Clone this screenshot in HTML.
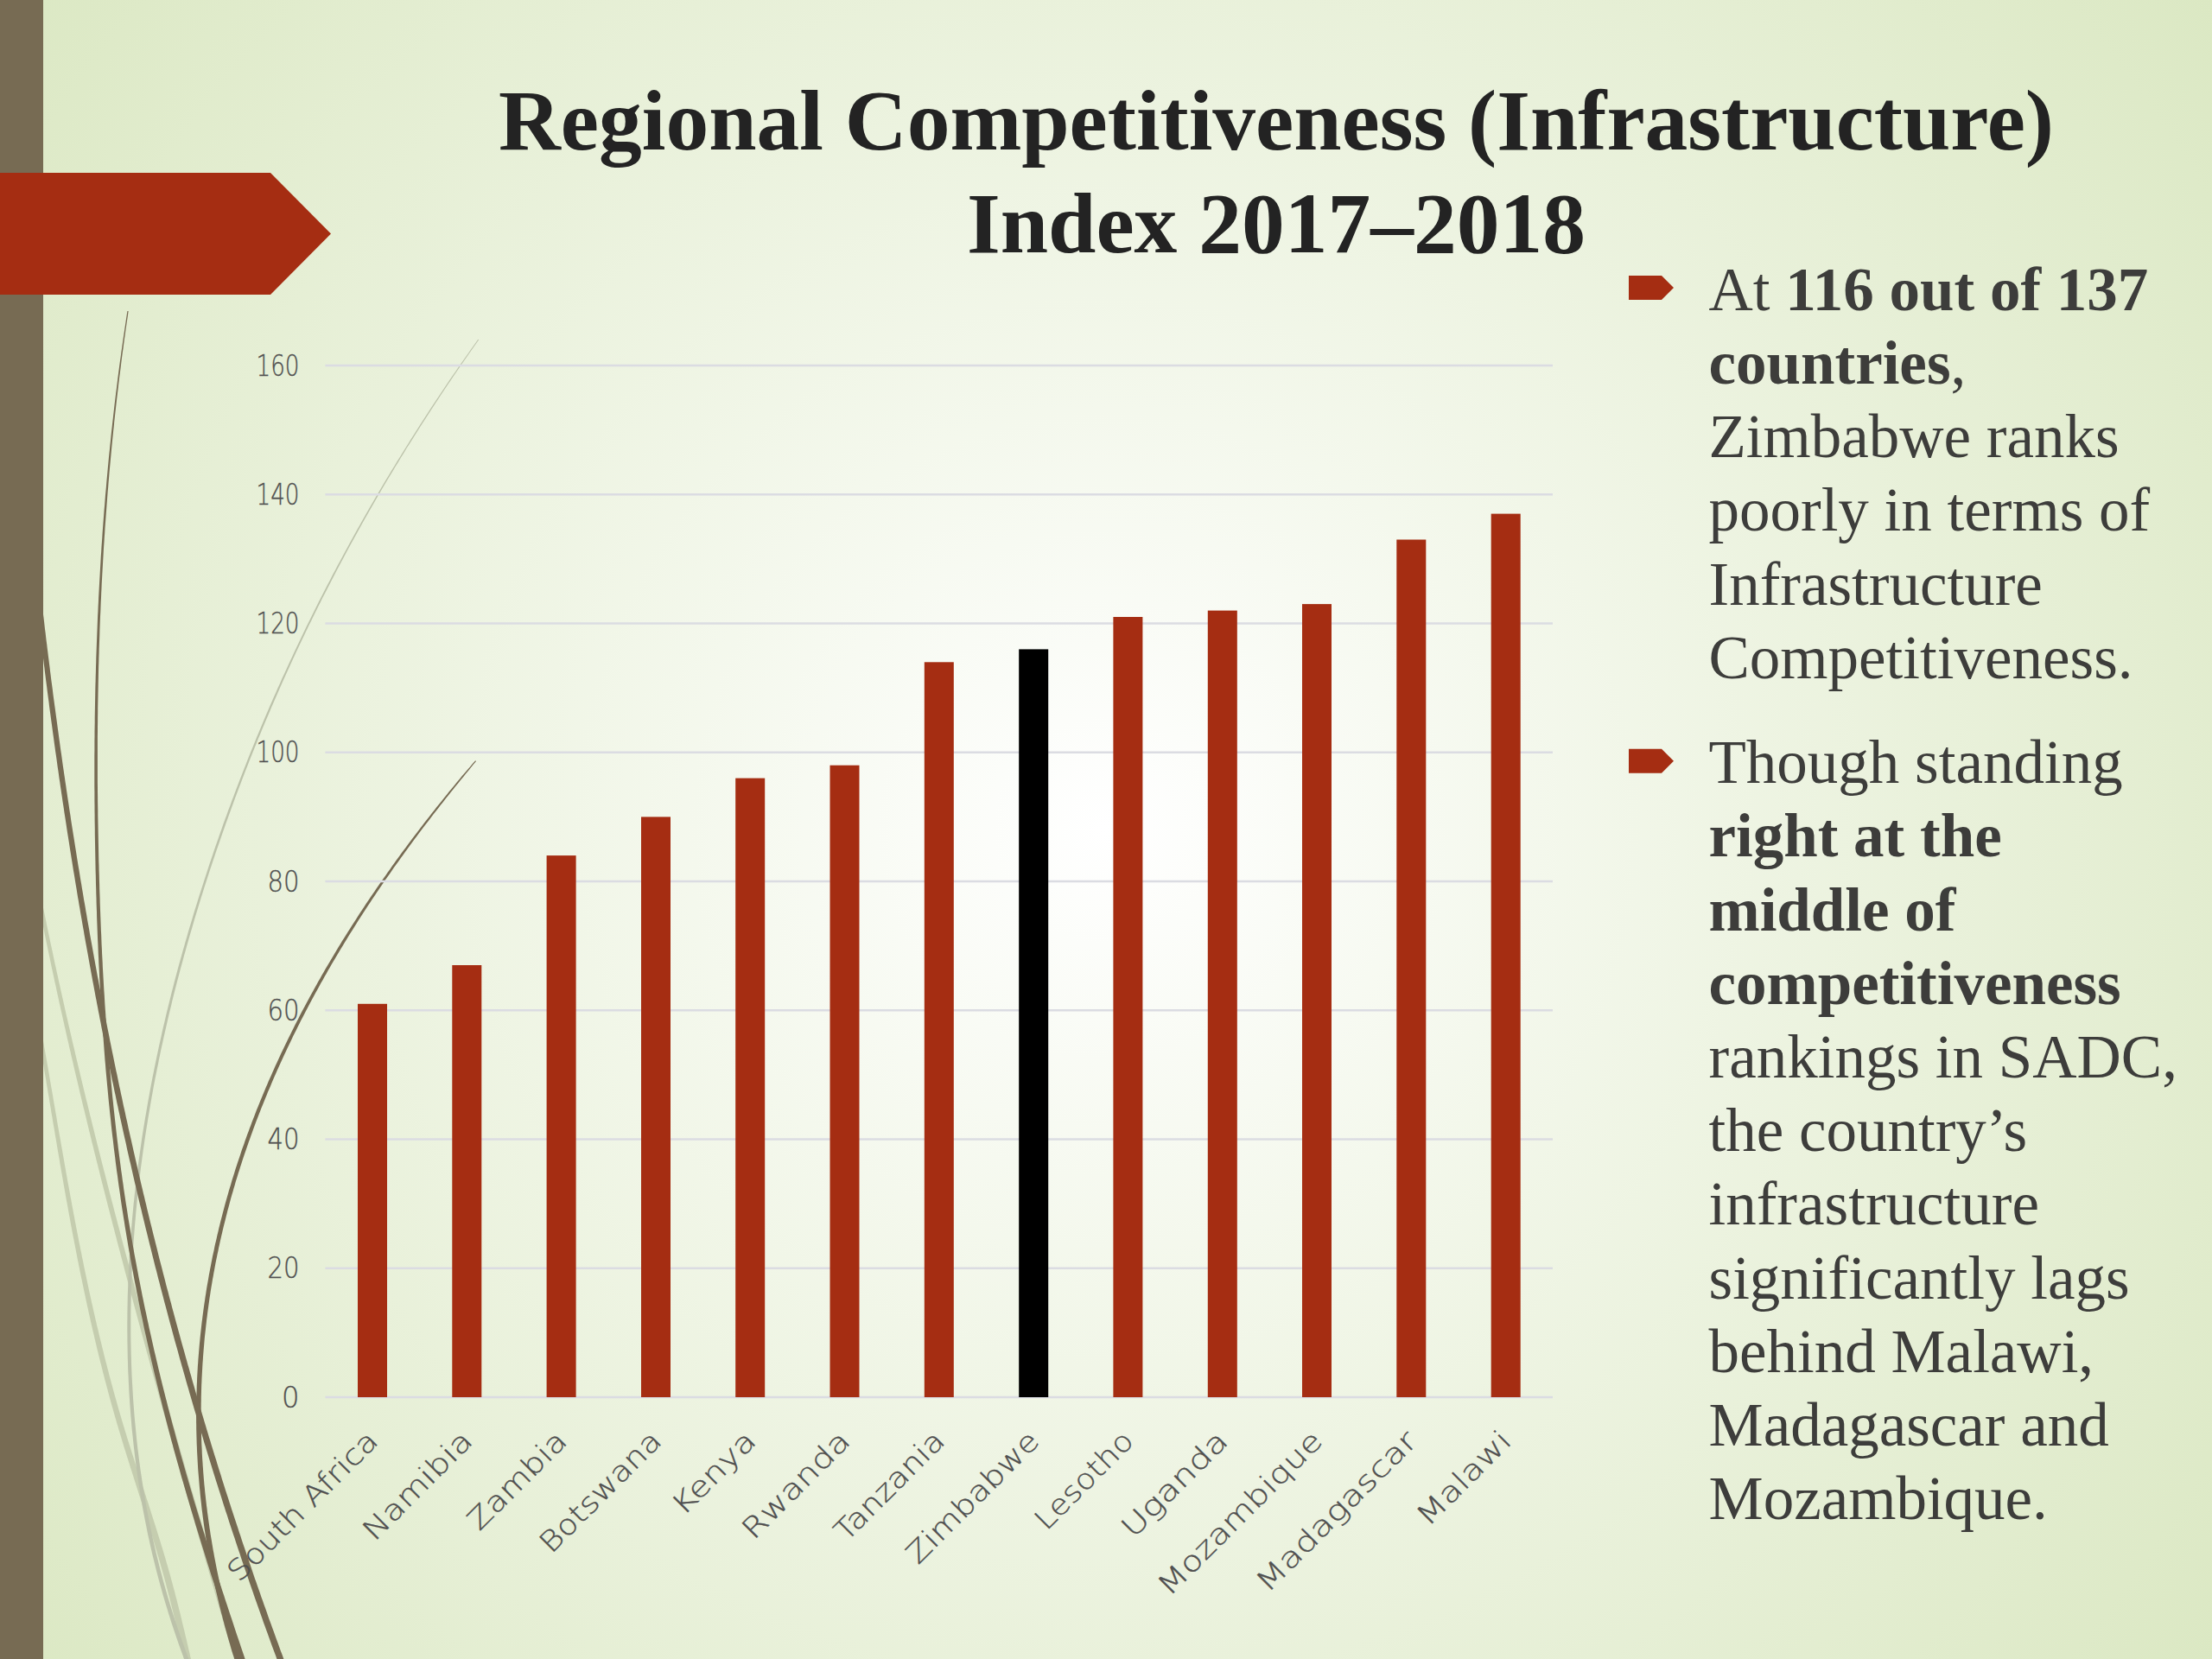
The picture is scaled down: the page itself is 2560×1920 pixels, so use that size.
<!DOCTYPE html>
<html>
<head>
<meta charset="utf-8">
<style>
html,body{margin:0;padding:0;width:2560px;height:1920px;overflow:hidden;}
body{background:#e6eed8;}
#slide{position:absolute;left:0;top:0;width:2560px;height:1920px;overflow:hidden;
background:radial-gradient(circle 1600px at 1280px 960px,#ffffff 0%,#dbe8c3 100%);}
svg{position:absolute;left:0;top:0;}
.t{font-family:"Liberation Serif","Times New Roman",serif;}
.s{font-family:"Liberation Sans",Arial,sans-serif;}
.d{font-family:"DejaVu Sans","Liberation Sans",sans-serif;font-weight:200;fill:#505050;stroke:#505050;stroke-width:0.35px;}
</style>
</head>
<body>
<div id="slide">
<svg width="2560" height="1920" viewBox="0 0 2560 1920">
  <!-- wisps -->
  <g id="wisps">
<path d="M28.6,960.4 L29.2,963.7 L29.8,967.1 L30.4,970.4 L31.0,973.7 L31.6,977.1 L32.2,980.4 L32.8,983.8 L33.5,987.1 L34.1,990.5 L34.7,993.8 L35.3,997.2 L36.0,1000.5 L36.6,1003.9 L37.2,1007.2 L37.9,1010.6 L38.5,1013.9 L39.1,1017.3 L39.8,1020.6 L40.4,1024.0 L41.1,1027.3 L41.7,1030.6 L42.4,1034.0 L43.0,1037.3 L43.7,1040.7 L44.3,1044.0 L45.0,1047.4 L45.7,1050.7 L46.3,1054.1 L47.0,1057.4 L47.7,1060.8 L48.3,1064.1 L49.0,1067.5 L49.7,1070.8 L50.4,1074.2 L51.1,1077.5 L51.7,1080.9 L52.4,1084.2 L53.1,1087.5 L53.8,1090.9 L54.5,1094.2 L55.2,1097.6 L55.9,1100.9 L56.6,1104.3 L57.3,1107.6 L58.0,1111.0 L58.7,1114.3 L59.4,1117.7 L60.1,1121.0 L60.9,1124.4 L61.6,1127.7 L62.3,1131.1 L63.0,1134.4 L63.7,1137.8 L64.5,1141.1 L65.2,1144.5 L65.9,1147.8 L66.6,1151.1 L67.4,1154.5 L68.1,1157.8 L68.8,1161.2 L69.6,1164.5 L70.3,1167.9 L71.1,1171.2 L71.8,1174.6 L72.6,1177.9 L73.3,1181.3 L74.1,1184.6 L74.8,1188.0 L75.6,1191.3 L76.3,1194.7 L77.1,1198.0 L77.8,1201.4 L78.6,1204.7 L79.4,1208.1 L80.1,1211.4 L80.9,1214.7 L81.7,1218.1 L82.4,1221.4 L83.2,1224.8 L84.0,1228.1 L84.8,1231.5 L85.5,1234.8 L86.3,1238.2 L87.1,1241.5 L87.9,1244.9 L88.7,1248.2 L89.5,1251.6 L90.3,1254.9 L91.1,1258.3 L91.8,1261.6 L92.6,1265.0 L93.4,1268.3 L94.2,1271.6 L95.0,1275.0 L95.8,1278.3 L96.6,1281.7 L97.5,1285.0 L98.3,1288.4 L99.1,1291.7 L99.9,1295.1 L100.7,1298.4 L101.5,1301.8 L102.3,1305.1 L103.1,1308.5 L104.0,1311.8 L104.8,1315.2 L105.6,1318.5 L106.4,1321.9 L107.3,1325.2 L108.1,1328.6 L108.9,1331.9 L109.7,1335.2 L110.6,1338.6 L111.4,1341.9 L112.2,1345.3 L113.1,1348.6 L113.9,1352.0 L114.8,1355.3 L115.6,1358.7 L116.4,1362.0 L117.3,1365.4 L118.1,1368.7 L119.0,1372.1 L119.8,1375.4 L120.7,1378.8 L121.5,1382.1 L122.4,1385.5 L123.2,1388.8 L124.1,1392.2 L124.9,1395.5 L125.8,1398.8 L126.7,1402.2 L127.5,1405.5 L128.4,1408.9 L129.3,1412.2 L130.1,1415.6 L131.0,1418.9 L131.9,1422.3 L132.7,1425.6 L133.6,1429.0 L134.5,1432.3 L135.3,1435.7 L136.2,1439.0 L137.1,1442.4 L138.0,1445.7 L138.9,1449.1 L139.7,1452.4 L140.6,1455.7 L141.5,1459.1 L142.4,1462.4 L143.3,1465.8 L144.1,1469.1 L145.0,1472.5 L145.9,1475.8 L146.8,1479.2 L147.7,1482.5 L148.6,1485.9 L149.5,1489.2 L150.4,1492.6 L151.3,1495.9 L152.2,1499.3 L153.1,1502.6 L154.0,1506.0 L154.9,1509.3 L155.8,1512.7 L156.7,1516.0 L157.6,1519.3 L158.5,1522.7 L159.4,1526.0 L160.3,1529.4 L161.2,1532.7 L162.1,1536.1 L163.0,1539.4 L163.9,1542.8 L164.8,1546.1 L165.8,1549.5 L166.7,1552.8 L167.6,1556.2 L168.5,1559.5 L169.4,1562.9 L170.3,1566.2 L171.3,1569.6 L172.2,1572.9 L173.1,1576.2 L174.0,1579.6 L174.9,1582.9 L175.9,1586.3 L176.8,1589.6 L177.7,1593.0 L178.6,1596.3 L179.6,1599.7 L180.5,1603.0 L181.4,1606.4 L182.4,1609.7 L183.3,1613.1 L184.2,1616.4 L185.1,1619.8 L186.1,1623.1 L187.0,1626.5 L187.9,1629.8 L188.9,1633.1 L189.8,1636.5 L190.8,1639.8 L191.7,1643.2 L192.6,1646.5 L193.6,1649.9 L194.5,1653.2 L195.4,1656.6 L196.4,1659.9 L197.3,1663.3 L198.3,1666.6 L199.2,1670.0 L200.2,1673.3 L201.1,1676.7 L202.0,1680.0 L203.0,1683.3 L203.9,1686.7 L204.9,1690.0 L205.8,1693.4 L206.8,1696.7 L207.7,1700.1 L208.7,1703.4 L209.6,1706.8 L210.6,1710.1 L211.5,1713.5 L212.5,1716.8 L213.4,1720.2 L214.4,1723.5 L215.3,1726.9 L216.3,1730.2 L217.2,1733.6 L218.2,1736.9 L219.1,1740.2 L220.1,1743.6 L221.1,1746.9 L222.0,1750.3 L223.0,1753.6 L223.9,1757.0 L224.9,1760.3 L225.8,1763.7 L226.8,1767.0 L227.8,1770.4 L228.7,1773.7 L229.7,1777.1 L230.6,1780.4 L231.6,1783.8 L232.6,1787.1 L233.5,1790.4 L234.5,1793.8 L235.4,1797.1 L236.4,1800.5 L237.4,1803.8 L238.3,1807.2 L239.3,1810.5 L240.3,1813.9 L241.2,1817.2 L242.2,1820.6 L243.2,1823.9 L244.1,1827.3 L245.1,1830.6 L246.0,1834.0 L247.0,1837.3 L248.0,1840.6 L248.9,1844.0 L249.9,1847.3 L250.9,1850.7 L251.8,1854.0 L252.8,1857.4 L253.8,1860.7 L254.7,1864.1 L255.7,1867.4 L256.7,1870.8 L257.6,1874.1 L258.6,1877.5 L259.6,1880.8 L260.5,1884.2 L261.5,1887.5 L262.5,1890.8 L263.4,1894.2 L264.4,1897.5 L265.4,1900.9 L266.3,1904.2 L267.3,1907.6 L268.3,1910.9 L269.2,1914.3 L270.2,1917.6 L271.2,1921.0 L272.2,1924.3 L273.1,1927.7 L274.1,1931.0 L275.1,1934.3 L276.0,1937.7 L277.0,1941.0 L278.0,1944.4 L278.9,1947.7 L279.9,1951.1 L280.9,1954.4 L281.8,1957.8 L282.8,1961.1 L290.5,1958.9 L289.5,1955.5 L288.5,1952.2 L287.5,1948.9 L286.6,1945.5 L285.6,1942.2 L284.6,1938.8 L283.6,1935.5 L282.6,1932.1 L281.7,1928.8 L280.7,1925.5 L279.7,1922.1 L278.7,1918.8 L277.7,1915.4 L276.7,1912.1 L275.8,1908.7 L274.8,1905.4 L273.8,1902.1 L272.8,1898.7 L271.8,1895.4 L270.9,1892.0 L269.9,1888.7 L268.9,1885.3 L267.9,1882.0 L266.9,1878.7 L266.0,1875.3 L265.0,1872.0 L264.0,1868.6 L263.0,1865.3 L262.0,1861.9 L261.1,1858.6 L260.1,1855.3 L259.1,1851.9 L258.1,1848.6 L257.1,1845.2 L256.2,1841.9 L255.2,1838.6 L254.2,1835.2 L253.2,1831.9 L252.3,1828.5 L251.3,1825.2 L250.3,1821.8 L249.3,1818.5 L248.3,1815.2 L247.4,1811.8 L246.4,1808.5 L245.4,1805.1 L244.4,1801.8 L243.5,1798.4 L242.5,1795.1 L241.5,1791.8 L240.5,1788.4 L239.6,1785.1 L238.6,1781.7 L237.6,1778.4 L236.7,1775.0 L235.7,1771.7 L234.7,1768.4 L233.7,1765.0 L232.8,1761.7 L231.8,1758.3 L230.8,1755.0 L229.9,1751.7 L228.9,1748.3 L227.9,1745.0 L226.9,1741.6 L226.0,1738.3 L225.0,1734.9 L224.0,1731.6 L223.1,1728.3 L222.1,1724.9 L221.1,1721.6 L220.2,1718.2 L219.2,1714.9 L218.3,1711.5 L217.3,1708.2 L216.3,1704.9 L215.4,1701.5 L214.4,1698.2 L213.4,1694.8 L212.5,1691.5 L211.5,1688.2 L210.6,1684.8 L209.6,1681.5 L208.6,1678.1 L207.7,1674.8 L206.7,1671.4 L205.8,1668.1 L204.8,1664.8 L203.9,1661.4 L202.9,1658.1 L202.0,1654.7 L201.0,1651.4 L200.1,1648.0 L199.1,1644.7 L198.2,1641.4 L197.2,1638.0 L196.3,1634.7 L195.3,1631.3 L194.4,1628.0 L193.4,1624.7 L192.5,1621.3 L191.5,1618.0 L190.6,1614.6 L189.6,1611.3 L188.7,1607.9 L187.8,1604.6 L186.8,1601.3 L185.9,1597.9 L184.9,1594.6 L184.0,1591.2 L183.1,1587.9 L182.1,1584.5 L181.2,1581.2 L180.2,1577.9 L179.3,1574.5 L178.4,1571.2 L177.4,1567.8 L176.5,1564.5 L175.6,1561.2 L174.7,1557.8 L173.7,1554.5 L172.8,1551.1 L171.9,1547.8 L171.0,1544.4 L170.0,1541.1 L169.1,1537.8 L168.2,1534.4 L167.3,1531.1 L166.3,1527.7 L165.4,1524.4 L164.5,1521.1 L163.6,1517.7 L162.7,1514.4 L161.8,1511.0 L160.8,1507.7 L159.9,1504.3 L159.0,1501.0 L158.1,1497.7 L157.2,1494.3 L156.3,1491.0 L155.4,1487.6 L154.5,1484.3 L153.6,1481.0 L152.7,1477.6 L151.8,1474.3 L150.9,1470.9 L150.0,1467.6 L149.1,1464.2 L148.2,1460.9 L147.3,1457.6 L146.4,1454.2 L145.5,1450.9 L144.6,1447.5 L143.7,1444.2 L142.8,1440.9 L141.9,1437.5 L141.0,1434.2 L140.1,1430.8 L139.3,1427.5 L138.4,1424.1 L137.5,1420.8 L136.6,1417.5 L135.7,1414.1 L134.9,1410.8 L134.0,1407.4 L133.1,1404.1 L132.2,1400.7 L131.4,1397.4 L130.5,1394.1 L129.6,1390.7 L128.8,1387.4 L127.9,1384.0 L127.0,1380.7 L126.2,1377.4 L125.3,1374.0 L124.4,1370.7 L123.6,1367.3 L122.7,1364.0 L121.9,1360.6 L121.0,1357.3 L120.1,1354.0 L119.3,1350.6 L118.4,1347.3 L117.6,1343.9 L116.7,1340.6 L115.9,1337.3 L115.1,1333.9 L114.2,1330.6 L113.4,1327.2 L112.5,1323.9 L111.7,1320.5 L110.9,1317.2 L110.0,1313.9 L109.2,1310.5 L108.4,1307.2 L107.5,1303.8 L106.7,1300.5 L105.9,1297.2 L105.1,1293.8 L104.2,1290.5 L103.4,1287.1 L102.6,1283.8 L101.8,1280.4 L101.0,1277.1 L100.1,1273.8 L99.3,1270.4 L98.5,1267.1 L97.7,1263.7 L96.9,1260.4 L96.1,1257.1 L95.3,1253.7 L94.5,1250.4 L93.7,1247.0 L92.9,1243.7 L92.1,1240.3 L91.3,1237.0 L90.5,1233.7 L89.7,1230.3 L88.9,1227.0 L88.1,1223.6 L87.3,1220.3 L86.6,1217.0 L85.8,1213.6 L85.0,1210.3 L84.2,1206.9 L83.4,1203.6 L82.7,1200.2 L81.9,1196.9 L81.1,1193.6 L80.4,1190.2 L79.6,1186.9 L78.8,1183.5 L78.1,1180.2 L77.3,1176.9 L76.5,1173.5 L75.8,1170.2 L75.0,1166.8 L74.3,1163.5 L73.5,1160.1 L72.8,1156.8 L72.0,1153.5 L71.3,1150.1 L70.5,1146.8 L69.8,1143.4 L69.1,1140.1 L68.3,1136.8 L67.6,1133.4 L66.9,1130.1 L66.1,1126.7 L65.4,1123.4 L64.7,1120.0 L63.9,1116.7 L63.2,1113.4 L62.5,1110.0 L61.8,1106.7 L61.1,1103.3 L60.4,1100.0 L59.7,1096.7 L58.9,1093.3 L58.2,1090.0 L57.5,1086.6 L56.8,1083.3 L56.1,1079.9 L55.4,1076.6 L54.7,1073.3 L54.0,1069.9 L53.4,1066.6 L52.7,1063.2 L52.0,1059.9 L51.3,1056.6 L50.6,1053.2 L49.9,1049.9 L49.3,1046.5 L48.6,1043.2 L47.9,1039.8 L47.2,1036.5 L46.6,1033.2 L45.9,1029.8 L45.3,1026.5 L44.6,1023.1 L43.9,1019.8 L43.3,1016.5 L42.6,1013.1 L42.0,1009.8 L41.3,1006.4 L40.7,1003.1 L40.0,999.7 L39.4,996.4 L38.8,993.1 L38.1,989.7 L37.5,986.4 L36.9,983.0 L36.2,979.7 L35.6,976.4 L35.0,973.0 L34.4,969.7 L33.7,966.3 L33.1,963.0 L32.5,959.6Z" fill="#c5cdaf"/>
<path d="M28.7,1110.4 L29.2,1113.2 L29.8,1116.1 L30.3,1118.9 L30.8,1121.7 L31.3,1124.6 L31.9,1127.4 L32.4,1130.3 L32.9,1133.1 L33.4,1136.0 L34.0,1138.8 L34.5,1141.6 L35.0,1144.5 L35.5,1147.3 L36.0,1150.2 L36.5,1153.0 L37.0,1155.9 L37.5,1158.7 L38.1,1161.5 L38.6,1164.4 L39.1,1167.2 L39.6,1170.1 L40.1,1172.9 L40.6,1175.8 L41.1,1178.6 L41.5,1181.4 L42.0,1184.3 L42.5,1187.1 L43.0,1190.0 L43.5,1192.8 L44.0,1195.7 L44.5,1198.5 L45.0,1201.3 L45.5,1204.2 L46.0,1207.0 L46.4,1209.9 L46.9,1212.7 L47.4,1215.6 L47.9,1218.4 L48.4,1221.3 L48.8,1224.1 L49.3,1226.9 L49.8,1229.8 L50.3,1232.6 L50.8,1235.5 L51.2,1238.3 L51.7,1241.2 L52.2,1244.0 L52.7,1246.8 L53.2,1249.7 L53.6,1252.5 L54.1,1255.4 L54.6,1258.2 L55.1,1261.1 L55.5,1263.9 L56.0,1266.7 L56.5,1269.6 L57.0,1272.4 L57.4,1275.3 L57.9,1278.1 L58.4,1281.0 L58.9,1283.8 L59.3,1286.7 L59.8,1289.5 L60.3,1292.3 L60.8,1295.2 L61.2,1298.0 L61.7,1300.9 L62.2,1303.7 L62.7,1306.6 L63.2,1309.4 L63.6,1312.3 L64.1,1315.1 L64.6,1317.9 L65.1,1320.8 L65.6,1323.6 L66.0,1326.5 L66.5,1329.3 L67.0,1332.2 L67.5,1335.0 L68.0,1337.9 L68.5,1340.7 L69.0,1343.5 L69.4,1346.4 L69.9,1349.2 L70.4,1352.1 L70.9,1354.9 L71.4,1357.8 L71.9,1360.6 L72.4,1363.5 L72.9,1366.3 L73.4,1369.2 L73.9,1372.0 L74.4,1374.8 L74.9,1377.7 L75.4,1380.5 L75.9,1383.4 L76.4,1386.2 L76.9,1389.1 L77.5,1391.9 L78.0,1394.8 L78.5,1397.6 L79.0,1400.5 L79.5,1403.3 L80.0,1406.1 L80.6,1409.0 L81.1,1411.8 L81.6,1414.7 L82.1,1417.5 L82.7,1420.4 L83.2,1423.2 L83.7,1426.1 L84.3,1428.9 L84.8,1431.8 L85.4,1434.6 L85.9,1437.4 L86.5,1440.3 L87.0,1443.1 L87.6,1446.0 L88.1,1448.8 L88.7,1451.7 L89.2,1454.5 L89.8,1457.4 L90.4,1460.2 L90.9,1463.1 L91.5,1465.9 L92.1,1468.8 L92.6,1471.6 L93.2,1474.5 L93.8,1477.3 L94.4,1480.1 L95.0,1483.0 L95.6,1485.8 L96.2,1488.7 L96.8,1491.5 L97.4,1494.4 L98.0,1497.2 L98.6,1500.1 L99.2,1502.9 L99.8,1505.8 L100.4,1508.6 L101.0,1511.5 L101.7,1514.3 L102.3,1517.2 L102.9,1520.0 L103.6,1522.9 L104.2,1525.7 L104.8,1528.6 L105.5,1531.4 L106.1,1534.3 L106.8,1537.1 L107.4,1539.9 L108.1,1542.8 L108.8,1545.6 L109.4,1548.5 L110.1,1551.3 L110.8,1554.2 L111.5,1557.0 L112.1,1559.9 L112.8,1562.7 L113.5,1565.6 L114.2,1568.4 L114.9,1571.3 L115.6,1574.1 L116.3,1577.0 L117.1,1579.8 L117.8,1582.7 L118.5,1585.5 L119.2,1588.4 L120.0,1591.2 L120.7,1594.1 L121.4,1596.9 L122.2,1599.8 L122.9,1602.6 L123.7,1605.5 L124.5,1608.3 L125.2,1611.2 L126.0,1614.0 L126.8,1616.9 L127.5,1619.7 L128.3,1622.6 L129.1,1625.4 L129.9,1628.3 L130.7,1631.1 L131.5,1634.0 L132.3,1636.8 L133.1,1639.7 L134.0,1642.5 L134.8,1645.4 L135.6,1648.2 L136.5,1651.1 L137.3,1653.9 L138.2,1656.8 L139.0,1659.6 L139.9,1662.5 L140.7,1665.3 L141.6,1668.2 L142.5,1671.0 L143.3,1673.9 L144.2,1676.7 L145.1,1679.6 L146.0,1682.4 L146.9,1685.3 L147.8,1688.1 L148.7,1690.9 L149.6,1693.8 L150.4,1696.6 L151.3,1699.5 L152.3,1702.3 L153.2,1705.2 L154.1,1708.0 L155.0,1710.9 L155.9,1713.7 L156.8,1716.6 L157.7,1719.4 L158.6,1722.3 L159.5,1725.1 L160.4,1727.9 L161.3,1730.8 L162.2,1733.6 L163.1,1736.5 L164.0,1739.3 L164.9,1742.2 L165.8,1745.0 L166.7,1747.9 L167.6,1750.7 L168.5,1753.5 L169.4,1756.4 L170.3,1759.2 L171.2,1762.1 L172.1,1764.9 L173.0,1767.7 L173.9,1770.6 L174.7,1773.4 L175.6,1776.3 L176.5,1779.1 L177.3,1782.0 L178.2,1784.8 L179.1,1787.6 L179.9,1790.5 L180.8,1793.3 L181.6,1796.1 L182.4,1799.0 L183.3,1801.8 L184.1,1804.7 L184.9,1807.5 L185.7,1810.3 L186.5,1813.2 L187.3,1816.0 L188.1,1818.8 L188.9,1821.7 L189.7,1824.5 L190.5,1827.4 L191.2,1830.2 L192.0,1833.0 L192.7,1835.9 L193.5,1838.7 L194.2,1841.5 L194.9,1844.4 L195.7,1847.2 L196.4,1850.1 L197.1,1852.9 L197.8,1855.7 L198.5,1858.6 L199.2,1861.4 L199.9,1864.2 L200.6,1867.1 L201.3,1869.9 L202.0,1872.8 L202.7,1875.6 L203.3,1878.4 L204.0,1881.3 L204.7,1884.1 L205.4,1887.0 L206.0,1889.8 L206.7,1892.6 L207.3,1895.5 L208.0,1898.3 L208.6,1901.2 L209.3,1904.0 L209.9,1906.9 L210.6,1909.7 L211.2,1912.5 L211.9,1915.4 L212.5,1918.2 L213.2,1921.1 L213.8,1923.9 L214.4,1926.8 L215.1,1929.6 L215.7,1932.4 L216.3,1935.3 L217.0,1938.1 L217.6,1941.0 L218.3,1943.8 L218.9,1946.7 L219.5,1949.5 L220.2,1952.4 L220.8,1955.2 L221.5,1958.0 L222.1,1960.9 L229.9,1959.1 L229.2,1956.3 L228.6,1953.4 L227.9,1950.6 L227.3,1947.7 L226.6,1944.9 L226.0,1942.1 L225.3,1939.2 L224.7,1936.4 L224.0,1933.5 L223.4,1930.7 L222.7,1927.9 L222.1,1925.0 L221.4,1922.2 L220.8,1919.3 L220.1,1916.5 L219.5,1913.6 L218.8,1910.8 L218.1,1908.0 L217.5,1905.1 L216.8,1902.3 L216.2,1899.4 L215.5,1896.6 L214.8,1893.7 L214.2,1890.9 L213.5,1888.1 L212.8,1885.2 L212.1,1882.4 L211.4,1879.5 L210.7,1876.7 L210.1,1873.8 L209.4,1871.0 L208.7,1868.1 L208.0,1865.3 L207.2,1862.4 L206.5,1859.6 L205.8,1856.7 L205.1,1853.9 L204.4,1851.1 L203.6,1848.2 L202.9,1845.4 L202.2,1842.5 L201.4,1839.7 L200.6,1836.8 L199.9,1834.0 L199.1,1831.1 L198.3,1828.3 L197.6,1825.4 L196.8,1822.6 L196.0,1819.7 L195.2,1816.9 L194.4,1814.0 L193.6,1811.2 L192.7,1808.3 L191.9,1805.5 L191.1,1802.6 L190.2,1799.8 L189.4,1796.9 L188.5,1794.1 L187.7,1791.2 L186.8,1788.4 L185.9,1785.5 L185.1,1782.7 L184.2,1779.9 L183.3,1777.0 L182.4,1774.2 L181.5,1771.3 L180.6,1768.5 L179.7,1765.6 L178.8,1762.8 L177.9,1759.9 L177.0,1757.1 L176.1,1754.3 L175.2,1751.4 L174.3,1748.6 L173.4,1745.7 L172.5,1742.9 L171.6,1740.0 L170.7,1737.2 L169.7,1734.4 L168.8,1731.5 L167.9,1728.7 L167.0,1725.8 L166.1,1723.0 L165.1,1720.2 L164.2,1717.3 L163.3,1714.5 L162.4,1711.6 L161.4,1708.8 L160.5,1706.0 L159.6,1703.1 L158.7,1700.3 L157.8,1697.4 L156.9,1694.6 L156.0,1691.8 L155.1,1688.9 L154.2,1686.1 L153.3,1683.2 L152.4,1680.4 L151.5,1677.6 L150.6,1674.7 L149.7,1671.9 L148.8,1669.1 L147.9,1666.2 L147.0,1663.4 L146.2,1660.5 L145.3,1657.7 L144.4,1654.9 L143.6,1652.0 L142.7,1649.2 L141.9,1646.4 L141.0,1643.5 L140.2,1640.7 L139.4,1637.9 L138.5,1635.0 L137.7,1632.2 L136.9,1629.4 L136.1,1626.5 L135.3,1623.7 L134.5,1620.8 L133.7,1618.0 L132.9,1615.2 L132.1,1612.3 L131.3,1609.5 L130.6,1606.7 L129.8,1603.8 L129.0,1601.0 L128.3,1598.2 L127.5,1595.3 L126.7,1592.5 L126.0,1589.6 L125.3,1586.8 L124.5,1584.0 L123.8,1581.1 L123.1,1578.3 L122.3,1575.5 L121.6,1572.6 L120.9,1569.8 L120.2,1567.0 L119.5,1564.1 L118.8,1561.3 L118.1,1558.4 L117.4,1555.6 L116.7,1552.8 L116.0,1549.9 L115.3,1547.1 L114.6,1544.3 L114.0,1541.4 L113.3,1538.6 L112.6,1535.7 L111.9,1532.9 L111.3,1530.1 L110.6,1527.2 L110.0,1524.4 L109.3,1521.6 L108.7,1518.7 L108.0,1515.9 L107.4,1513.0 L106.8,1510.2 L106.1,1507.4 L105.5,1504.5 L104.9,1501.7 L104.3,1498.9 L103.6,1496.0 L103.0,1493.2 L102.4,1490.3 L101.8,1487.5 L101.2,1484.7 L100.6,1481.8 L100.0,1479.0 L99.4,1476.1 L98.8,1473.3 L98.2,1470.5 L97.6,1467.6 L97.0,1464.8 L96.5,1461.9 L95.9,1459.1 L95.3,1456.3 L94.7,1453.4 L94.2,1450.6 L93.6,1447.8 L93.0,1444.9 L92.5,1442.1 L91.9,1439.2 L91.3,1436.4 L90.8,1433.6 L90.2,1430.7 L89.7,1427.9 L89.1,1425.0 L88.6,1422.2 L88.0,1419.4 L87.5,1416.5 L86.9,1413.7 L86.4,1410.8 L85.9,1408.0 L85.3,1405.2 L84.8,1402.3 L84.3,1399.5 L83.7,1396.6 L83.2,1393.8 L82.7,1391.0 L82.2,1388.1 L81.6,1385.3 L81.1,1382.4 L80.6,1379.6 L80.1,1376.8 L79.6,1373.9 L79.0,1371.1 L78.5,1368.2 L78.0,1365.4 L77.5,1362.6 L77.0,1359.7 L76.5,1356.9 L76.0,1354.0 L75.5,1351.2 L75.0,1348.4 L74.5,1345.5 L74.0,1342.7 L73.5,1339.8 L73.0,1337.0 L72.5,1334.2 L72.0,1331.3 L71.5,1328.5 L71.0,1325.6 L70.5,1322.8 L70.0,1319.9 L69.5,1317.1 L69.0,1314.3 L68.5,1311.4 L68.0,1308.6 L67.5,1305.7 L67.0,1302.9 L66.5,1300.1 L66.0,1297.2 L65.6,1294.4 L65.1,1291.5 L64.6,1288.7 L64.1,1285.9 L63.6,1283.0 L63.1,1280.2 L62.6,1277.3 L62.1,1274.5 L61.6,1271.6 L61.2,1268.8 L60.7,1266.0 L60.2,1263.1 L59.7,1260.3 L59.2,1257.4 L58.7,1254.6 L58.2,1251.8 L57.7,1248.9 L57.2,1246.1 L56.8,1243.2 L56.3,1240.4 L55.8,1237.5 L55.3,1234.7 L54.8,1231.9 L54.3,1229.0 L53.8,1226.2 L53.3,1223.3 L52.8,1220.5 L52.3,1217.6 L51.8,1214.8 L51.3,1212.0 L50.8,1209.1 L50.3,1206.3 L49.8,1203.4 L49.3,1200.6 L48.8,1197.7 L48.3,1194.9 L47.8,1192.1 L47.3,1189.2 L46.8,1186.4 L46.3,1183.5 L45.8,1180.7 L45.3,1177.9 L44.8,1175.0 L44.3,1172.2 L43.8,1169.3 L43.3,1166.5 L42.7,1163.6 L42.2,1160.8 L41.7,1158.0 L41.2,1155.1 L40.7,1152.3 L40.1,1149.4 L39.6,1146.6 L39.1,1143.7 L38.6,1140.9 L38.0,1138.1 L37.5,1135.2 L37.0,1132.4 L36.4,1129.5 L35.9,1126.7 L35.3,1123.8 L34.8,1121.0 L34.3,1118.2 L33.7,1115.3 L33.2,1112.5 L32.6,1109.6Z" fill="#c5cdaf"/>
<path d="M553.3,392.7 L549.6,397.9 L545.8,403.2 L542.2,408.4 L538.5,413.7 L534.8,418.9 L531.2,424.1 L527.6,429.4 L524.0,434.6 L520.4,439.8 L516.9,445.1 L513.4,450.3 L509.9,455.6 L506.4,460.8 L502.9,466.0 L499.4,471.3 L496.0,476.5 L492.6,481.8 L489.2,487.0 L485.8,492.2 L482.5,497.5 L479.2,502.7 L475.8,507.9 L472.6,513.2 L469.3,518.4 L466.0,523.7 L462.8,528.9 L459.6,534.1 L456.4,539.4 L453.2,544.6 L450.0,549.9 L446.9,555.1 L443.8,560.3 L440.7,565.6 L437.6,570.8 L434.5,576.0 L431.5,581.3 L428.4,586.5 L425.4,591.8 L422.4,597.0 L419.4,602.2 L416.5,607.5 L413.5,612.7 L410.6,618.0 L407.7,623.2 L404.8,628.4 L402.0,633.7 L399.1,638.9 L396.3,644.2 L393.5,649.4 L390.7,654.6 L387.9,659.9 L385.1,665.1 L382.4,670.4 L379.7,675.6 L377.0,680.8 L374.3,686.1 L371.6,691.3 L368.9,696.5 L366.3,701.8 L363.7,707.0 L361.1,712.3 L358.5,717.5 L355.9,722.7 L353.3,728.0 L350.8,733.2 L348.3,738.5 L345.8,743.7 L343.3,748.9 L340.8,754.2 L338.4,759.4 L335.9,764.7 L333.5,769.9 L331.1,775.2 L328.7,780.4 L326.3,785.6 L324.0,790.9 L321.6,796.1 L319.3,801.4 L317.0,806.6 L314.7,811.8 L312.4,817.1 L310.2,822.3 L307.9,827.6 L305.7,832.8 L303.5,838.0 L301.3,843.3 L299.1,848.5 L296.9,853.8 L294.8,859.0 L292.7,864.2 L290.5,869.5 L288.4,874.7 L286.3,880.0 L284.3,885.2 L282.2,890.4 L280.2,895.7 L278.1,900.9 L276.1,906.2 L274.1,911.4 L272.1,916.7 L270.2,921.9 L268.2,927.1 L266.3,932.4 L264.3,937.6 L262.4,942.9 L260.5,948.1 L258.6,953.3 L256.8,958.6 L254.9,963.8 L253.1,969.1 L251.3,974.3 L249.4,979.5 L247.6,984.8 L245.9,990.0 L244.1,995.3 L242.3,1000.5 L240.6,1005.8 L238.9,1011.0 L237.2,1016.2 L235.5,1021.5 L233.8,1026.7 L232.1,1032.0 L230.4,1037.2 L228.8,1042.5 L227.2,1047.7 L225.5,1052.9 L223.9,1058.2 L222.4,1063.4 L220.8,1068.7 L219.2,1073.9 L217.7,1079.1 L216.2,1084.4 L214.7,1089.6 L213.2,1094.9 L211.7,1100.1 L210.2,1105.4 L208.8,1110.6 L207.3,1115.8 L205.9,1121.1 L204.5,1126.3 L203.1,1131.6 L201.7,1136.8 L200.4,1142.1 L199.0,1147.3 L197.7,1152.5 L196.4,1157.8 L195.1,1163.0 L193.8,1168.3 L192.5,1173.5 L191.3,1178.8 L190.1,1184.0 L188.8,1189.3 L187.6,1194.5 L186.5,1199.7 L185.3,1205.0 L184.1,1210.2 L183.0,1215.5 L181.9,1220.7 L180.8,1226.0 L179.7,1231.2 L178.6,1236.5 L177.6,1241.7 L176.5,1246.9 L175.5,1252.2 L174.5,1257.4 L173.5,1262.7 L172.6,1267.9 L171.6,1273.2 L170.7,1278.4 L169.8,1283.7 L168.9,1288.9 L168.0,1294.1 L167.1,1299.4 L166.3,1304.6 L165.4,1309.9 L164.6,1315.1 L163.8,1320.4 L163.1,1325.6 L162.3,1330.9 L161.6,1336.1 L160.8,1341.4 L160.1,1346.6 L159.5,1351.8 L158.8,1357.1 L158.1,1362.3 L157.5,1367.6 L156.9,1372.8 L156.3,1378.1 L155.7,1383.3 L155.2,1388.6 L154.6,1393.8 L154.1,1399.1 L153.6,1404.3 L153.1,1409.6 L152.7,1414.8 L152.2,1420.0 L151.8,1425.3 L151.4,1430.5 L151.0,1435.8 L150.6,1441.0 L150.3,1446.3 L149.9,1451.5 L149.6,1456.8 L149.3,1462.0 L149.1,1467.3 L148.8,1472.5 L148.6,1477.8 L148.4,1483.0 L148.2,1488.3 L148.0,1493.5 L147.8,1498.8 L147.7,1504.0 L147.6,1509.3 L147.5,1514.5 L147.4,1519.8 L147.4,1525.0 L147.3,1530.2 L147.3,1535.5 L147.3,1540.7 L147.4,1546.0 L147.4,1551.2 L147.5,1556.5 L147.6,1561.7 L147.7,1567.0 L147.8,1572.2 L148.0,1577.5 L148.1,1582.7 L148.3,1588.0 L148.6,1593.2 L148.8,1598.5 L149.1,1603.7 L149.3,1609.0 L149.6,1614.2 L150.0,1619.5 L150.3,1624.7 L150.7,1630.0 L151.1,1635.2 L151.5,1640.5 L152.0,1645.7 L152.4,1651.0 L152.9,1656.2 L153.5,1661.5 L154.0,1666.7 L154.6,1672.0 L155.2,1677.2 L155.8,1682.5 L156.4,1687.7 L157.1,1693.0 L157.8,1698.3 L158.5,1703.5 L159.3,1708.8 L160.0,1714.0 L160.8,1719.3 L161.7,1724.5 L162.5,1729.8 L163.4,1735.0 L164.3,1740.3 L165.2,1745.5 L166.2,1750.8 L167.2,1756.0 L168.2,1761.3 L169.3,1766.5 L170.3,1771.8 L171.4,1777.0 L172.6,1782.3 L173.7,1787.6 L174.9,1792.8 L176.1,1798.1 L177.4,1803.3 L178.7,1808.6 L180.0,1813.8 L181.3,1819.1 L182.7,1824.3 L184.1,1829.6 L185.5,1834.8 L187.0,1840.1 L188.5,1845.4 L190.0,1850.6 L191.6,1855.9 L193.2,1861.1 L194.8,1866.4 L196.4,1871.6 L198.1,1876.9 L199.8,1882.1 L201.6,1887.4 L203.4,1892.7 L205.2,1897.9 L207.0,1903.2 L208.9,1908.4 L210.8,1913.7 L212.8,1918.9 L214.8,1924.2 L216.8,1929.4 L218.8,1934.7 L220.9,1940.0 L223.1,1945.2 L225.2,1950.5 L227.4,1955.7 L229.6,1961.0 L234.2,1959.0 L232.0,1953.8 L229.8,1948.6 L227.6,1943.3 L225.5,1938.1 L223.4,1932.9 L221.4,1927.7 L219.4,1922.4 L217.4,1917.2 L215.4,1912.0 L213.5,1906.8 L211.6,1901.5 L209.8,1896.3 L207.9,1891.1 L206.1,1885.9 L204.4,1880.6 L202.7,1875.4 L201.0,1870.2 L199.3,1865.0 L197.7,1859.7 L196.1,1854.5 L194.5,1849.3 L193.0,1844.0 L191.5,1838.8 L190.0,1833.6 L188.6,1828.4 L187.2,1823.1 L185.8,1817.9 L184.5,1812.7 L183.2,1807.5 L181.9,1802.2 L180.6,1797.0 L179.4,1791.8 L178.2,1786.6 L177.0,1781.3 L175.9,1776.1 L174.8,1770.9 L173.7,1765.6 L172.6,1760.4 L171.6,1755.2 L170.6,1750.0 L169.6,1744.7 L168.7,1739.5 L167.8,1734.3 L166.9,1729.0 L166.0,1723.8 L165.2,1718.6 L164.4,1713.4 L163.6,1708.1 L162.8,1702.9 L162.1,1697.7 L161.4,1692.4 L160.7,1687.2 L160.1,1682.0 L159.4,1676.7 L158.8,1671.5 L158.2,1666.3 L157.7,1661.1 L157.2,1655.8 L156.7,1650.6 L156.2,1645.4 L155.7,1640.1 L155.3,1634.9 L154.9,1629.7 L154.5,1624.4 L154.1,1619.2 L153.8,1614.0 L153.5,1608.7 L153.2,1603.5 L152.9,1598.3 L152.6,1593.1 L152.4,1587.8 L152.2,1582.6 L152.0,1577.4 L151.9,1572.1 L151.7,1566.9 L151.6,1561.7 L151.5,1556.4 L151.4,1551.2 L151.3,1546.0 L151.3,1540.7 L151.3,1535.5 L151.3,1530.3 L151.3,1525.0 L151.3,1519.8 L151.4,1514.6 L151.5,1509.3 L151.6,1504.1 L151.7,1498.9 L151.8,1493.6 L152.0,1488.4 L152.2,1483.2 L152.4,1477.9 L152.6,1472.7 L152.8,1467.5 L153.1,1462.2 L153.4,1457.0 L153.7,1451.8 L154.0,1446.5 L154.3,1441.3 L154.7,1436.1 L155.1,1430.8 L155.5,1425.6 L155.9,1420.3 L156.3,1415.1 L156.8,1409.9 L157.2,1404.6 L157.7,1399.4 L158.2,1394.2 L158.7,1388.9 L159.3,1383.7 L159.9,1378.5 L160.4,1373.2 L161.0,1368.0 L161.6,1362.8 L162.3,1357.5 L162.9,1352.3 L163.6,1347.1 L164.3,1341.8 L165.0,1336.6 L165.7,1331.3 L166.5,1326.1 L167.2,1320.9 L168.0,1315.6 L168.8,1310.4 L169.6,1305.2 L170.5,1299.9 L171.3,1294.7 L172.2,1289.5 L173.1,1284.2 L174.0,1279.0 L174.9,1273.7 L175.8,1268.5 L176.8,1263.3 L177.7,1258.0 L178.7,1252.8 L179.7,1247.6 L180.8,1242.3 L181.8,1237.1 L182.9,1231.9 L183.9,1226.6 L185.0,1221.4 L186.1,1216.1 L187.2,1210.9 L188.4,1205.7 L189.5,1200.4 L190.7,1195.2 L191.9,1190.0 L193.1,1184.7 L194.3,1179.5 L195.5,1174.2 L196.8,1169.0 L198.1,1163.8 L199.3,1158.5 L200.6,1153.3 L201.9,1148.0 L203.3,1142.8 L204.6,1137.6 L206.0,1132.3 L207.4,1127.1 L208.7,1121.9 L210.2,1116.6 L211.6,1111.4 L213.0,1106.1 L214.5,1100.9 L215.9,1095.7 L217.4,1090.4 L218.9,1085.2 L220.4,1079.9 L222.0,1074.7 L223.5,1069.5 L225.0,1064.2 L226.6,1059.0 L228.2,1053.7 L229.8,1048.5 L231.4,1043.3 L233.0,1038.0 L234.7,1032.8 L236.3,1027.5 L238.0,1022.3 L239.7,1017.1 L241.4,1011.8 L243.1,1006.6 L244.8,1001.4 L246.6,996.1 L248.3,990.9 L250.1,985.6 L251.9,980.4 L253.7,975.2 L255.5,969.9 L257.3,964.7 L259.2,959.4 L261.0,954.2 L262.9,948.9 L264.8,943.7 L266.7,938.5 L268.6,933.2 L270.5,928.0 L272.4,922.7 L274.4,917.5 L276.4,912.3 L278.4,907.0 L280.4,901.8 L282.4,896.5 L284.4,891.3 L286.5,886.1 L288.5,880.8 L290.6,875.6 L292.7,870.3 L294.8,865.1 L296.9,859.9 L299.0,854.6 L301.2,849.4 L303.4,844.1 L305.5,838.9 L307.7,833.7 L310.0,828.4 L312.2,823.2 L314.4,817.9 L316.7,812.7 L319.0,807.5 L321.3,802.2 L323.6,797.0 L325.9,791.7 L328.2,786.5 L330.6,781.2 L333.0,776.0 L335.4,770.8 L337.8,765.5 L340.2,760.3 L342.6,755.0 L345.1,749.8 L347.6,744.6 L350.1,739.3 L352.6,734.1 L355.1,728.8 L357.6,723.6 L360.2,718.4 L362.8,713.1 L365.3,707.9 L368.0,702.6 L370.6,697.4 L373.2,692.1 L375.9,686.9 L378.6,681.7 L381.3,676.4 L384.0,671.2 L386.7,665.9 L389.4,660.7 L392.2,655.4 L395.0,650.2 L397.8,645.0 L400.6,639.7 L403.4,634.5 L406.3,629.2 L409.2,624.0 L412.1,618.8 L415.0,613.5 L417.9,608.3 L420.8,603.0 L423.8,597.8 L426.8,592.5 L429.8,587.3 L432.8,582.1 L435.8,576.8 L438.9,571.6 L441.9,566.3 L445.0,561.1 L448.1,555.8 L451.3,550.6 L454.4,545.4 L457.6,540.1 L460.8,534.9 L464.0,529.6 L467.2,524.4 L470.4,519.1 L473.7,513.9 L477.0,508.7 L480.3,503.4 L483.6,498.2 L486.9,492.9 L490.3,487.7 L493.7,482.4 L497.1,477.2 L500.5,471.9 L503.9,466.7 L507.4,461.5 L510.8,456.2 L514.3,451.0 L517.8,445.7 L521.4,440.5 L524.9,435.2 L528.5,430.0 L532.1,424.8 L535.7,419.5 L539.4,414.3 L543.0,409.0 L546.7,403.8 L550.4,398.5 L554.1,393.3Z" fill="#bcc2aa"/>
<path d="M550.2,880.2 L547.0,883.8 L544.0,887.4 L540.9,891.0 L537.9,894.5 L534.8,898.1 L531.8,901.7 L528.8,905.3 L525.8,908.9 L522.9,912.5 L519.9,916.1 L517.0,919.7 L514.1,923.3 L511.2,926.9 L508.3,930.5 L505.4,934.1 L502.6,937.7 L499.7,941.3 L496.9,944.9 L494.1,948.5 L491.3,952.1 L488.5,955.7 L485.8,959.3 L483.0,962.9 L480.3,966.5 L477.6,970.1 L474.8,973.7 L472.2,977.3 L469.5,980.9 L466.8,984.5 L464.2,988.1 L461.5,991.7 L458.9,995.3 L456.3,999.0 L453.7,1002.6 L451.2,1006.2 L448.6,1009.8 L446.1,1013.4 L443.5,1017.0 L441.0,1020.6 L438.5,1024.2 L436.0,1027.8 L433.6,1031.4 L431.1,1035.0 L428.7,1038.6 L426.2,1042.2 L423.8,1045.8 L421.4,1049.4 L419.1,1053.0 L416.7,1056.6 L414.3,1060.3 L412.0,1063.9 L409.7,1067.5 L407.4,1071.1 L405.1,1074.7 L402.8,1078.3 L400.5,1081.9 L398.3,1085.5 L396.0,1089.1 L393.8,1092.7 L391.6,1096.3 L389.4,1099.9 L387.3,1103.6 L385.1,1107.2 L383.0,1110.8 L380.8,1114.4 L378.7,1118.0 L376.6,1121.6 L374.5,1125.2 L372.4,1128.8 L370.4,1132.4 L368.3,1136.0 L366.3,1139.7 L364.3,1143.3 L362.3,1146.9 L360.3,1150.5 L358.4,1154.1 L356.4,1157.7 L354.5,1161.3 L352.5,1164.9 L350.6,1168.5 L348.7,1172.1 L346.8,1175.8 L345.0,1179.4 L343.1,1183.0 L341.3,1186.6 L339.5,1190.2 L337.7,1193.8 L335.9,1197.4 L334.1,1201.0 L332.3,1204.7 L330.6,1208.3 L328.8,1211.9 L327.1,1215.5 L325.4,1219.1 L323.7,1222.7 L322.1,1226.3 L320.4,1229.9 L318.7,1233.6 L317.1,1237.2 L315.5,1240.8 L313.9,1244.4 L312.3,1248.0 L310.7,1251.6 L309.2,1255.2 L307.6,1258.8 L306.1,1262.5 L304.6,1266.1 L303.1,1269.7 L301.6,1273.3 L300.1,1276.9 L298.7,1280.5 L297.2,1284.1 L295.8,1287.8 L294.4,1291.4 L293.0,1295.0 L291.6,1298.6 L290.3,1302.2 L288.9,1305.8 L287.6,1309.4 L286.2,1313.1 L284.9,1316.7 L283.6,1320.3 L282.4,1323.9 L281.1,1327.5 L279.8,1331.1 L278.6,1334.7 L277.4,1338.4 L276.2,1342.0 L275.0,1345.6 L273.8,1349.2 L272.6,1352.8 L271.5,1356.4 L270.4,1360.1 L269.2,1363.7 L268.1,1367.3 L267.1,1370.9 L266.0,1374.5 L264.9,1378.1 L263.9,1381.8 L262.8,1385.4 L261.8,1389.0 L260.8,1392.6 L259.8,1396.2 L258.9,1399.8 L257.9,1403.5 L257.0,1407.1 L256.0,1410.7 L255.1,1414.3 L254.2,1417.9 L253.3,1421.5 L252.5,1425.2 L251.6,1428.8 L250.8,1432.4 L250.0,1436.0 L249.1,1439.6 L248.3,1443.2 L247.6,1446.9 L246.8,1450.5 L246.0,1454.1 L245.3,1457.7 L244.6,1461.3 L243.9,1465.0 L243.2,1468.6 L242.5,1472.2 L241.8,1475.8 L241.2,1479.4 L240.6,1483.1 L239.9,1486.7 L239.3,1490.3 L238.7,1493.9 L238.2,1497.5 L237.6,1501.1 L237.1,1504.8 L236.5,1508.4 L236.0,1512.0 L235.5,1515.6 L235.0,1519.2 L234.5,1522.9 L234.1,1526.5 L233.6,1530.1 L233.2,1533.7 L232.8,1537.3 L232.4,1541.0 L232.0,1544.6 L231.6,1548.2 L231.3,1551.8 L230.9,1555.4 L230.6,1559.1 L230.3,1562.7 L230.0,1566.3 L229.7,1569.9 L229.4,1573.5 L229.2,1577.2 L228.9,1580.8 L228.7,1584.4 L228.5,1588.0 L228.3,1591.6 L228.1,1595.3 L228.0,1598.9 L227.8,1602.5 L227.7,1606.1 L227.6,1609.7 L227.5,1613.4 L227.4,1617.0 L227.3,1620.6 L227.2,1624.2 L227.2,1627.8 L227.1,1631.5 L227.1,1635.1 L227.1,1638.7 L227.1,1642.3 L227.1,1646.0 L227.2,1649.6 L227.2,1653.2 L227.3,1656.8 L227.4,1660.4 L227.5,1664.1 L227.6,1667.7 L227.7,1671.3 L227.9,1674.9 L228.0,1678.5 L228.2,1682.2 L228.4,1685.8 L228.6,1689.4 L228.8,1693.0 L229.0,1696.7 L229.2,1700.3 L229.5,1703.9 L229.8,1707.5 L230.1,1711.1 L230.4,1714.8 L230.7,1718.4 L231.0,1722.0 L231.4,1725.6 L231.7,1729.3 L232.1,1732.9 L232.5,1736.5 L232.9,1740.1 L233.3,1743.7 L233.7,1747.4 L234.2,1751.0 L234.6,1754.6 L235.1,1758.2 L235.6,1761.9 L236.1,1765.5 L236.6,1769.1 L237.2,1772.7 L237.7,1776.3 L238.3,1780.0 L238.9,1783.6 L239.5,1787.2 L240.1,1790.8 L240.7,1794.5 L241.3,1798.1 L242.0,1801.7 L242.7,1805.3 L243.3,1808.9 L244.0,1812.6 L244.7,1816.2 L245.5,1819.8 L246.2,1823.4 L247.0,1827.1 L247.7,1830.7 L248.5,1834.3 L249.3,1837.9 L250.1,1841.6 L251.0,1845.2 L251.8,1848.8 L252.7,1852.4 L253.5,1856.0 L254.4,1859.7 L255.3,1863.3 L256.2,1866.9 L257.2,1870.5 L258.1,1874.2 L259.1,1877.8 L260.0,1881.4 L261.0,1885.0 L262.0,1888.6 L263.0,1892.3 L264.1,1895.9 L265.1,1899.5 L266.2,1903.1 L267.2,1906.8 L268.3,1910.4 L269.4,1914.0 L270.6,1917.6 L271.7,1921.3 L272.8,1924.9 L274.0,1928.5 L275.2,1932.1 L276.4,1935.7 L277.6,1939.4 L278.8,1943.0 L280.0,1946.6 L281.3,1950.2 L282.6,1953.9 L283.8,1957.5 L285.1,1961.1 L291.2,1958.9 L289.9,1955.3 L288.7,1951.7 L287.4,1948.1 L286.1,1944.5 L284.9,1940.9 L283.7,1937.3 L282.5,1933.7 L281.3,1930.1 L280.1,1926.5 L278.9,1922.9 L277.8,1919.3 L276.6,1915.7 L275.5,1912.1 L274.4,1908.5 L273.3,1904.9 L272.2,1901.3 L271.2,1897.7 L270.1,1894.1 L269.1,1890.5 L268.1,1887.0 L267.1,1883.4 L266.1,1879.8 L265.1,1876.2 L264.1,1872.6 L263.2,1869.0 L262.3,1865.4 L261.3,1861.8 L260.4,1858.2 L259.5,1854.6 L258.7,1851.0 L257.8,1847.4 L257.0,1843.8 L256.1,1840.2 L255.3,1836.6 L254.5,1833.0 L253.7,1829.4 L252.9,1825.8 L252.2,1822.2 L251.4,1818.6 L250.7,1815.0 L250.0,1811.4 L249.3,1807.8 L248.6,1804.2 L247.9,1800.6 L247.3,1797.0 L246.6,1793.4 L246.0,1789.8 L245.4,1786.2 L244.8,1782.6 L244.2,1779.0 L243.6,1775.4 L243.1,1771.8 L242.5,1768.2 L242.0,1764.6 L241.5,1761.0 L241.0,1757.4 L240.5,1753.8 L240.0,1750.2 L239.6,1746.6 L239.1,1743.1 L238.7,1739.5 L238.3,1735.9 L237.9,1732.3 L237.5,1728.7 L237.1,1725.1 L236.8,1721.5 L236.4,1717.9 L236.1,1714.3 L235.8,1710.7 L235.5,1707.1 L235.2,1703.5 L235.0,1699.9 L234.7,1696.3 L234.5,1692.7 L234.2,1689.1 L234.0,1685.5 L233.8,1681.9 L233.7,1678.3 L233.5,1674.7 L233.3,1671.1 L233.2,1667.5 L233.1,1663.9 L233.0,1660.3 L232.9,1656.7 L232.8,1653.1 L232.7,1649.5 L232.7,1645.9 L232.7,1642.3 L232.6,1638.7 L232.6,1635.1 L232.6,1631.5 L232.7,1627.9 L232.7,1624.3 L232.8,1620.7 L232.8,1617.1 L232.9,1613.5 L233.0,1609.9 L233.1,1606.3 L233.2,1602.7 L233.4,1599.1 L233.5,1595.5 L233.7,1591.9 L233.9,1588.3 L234.1,1584.7 L234.3,1581.1 L234.5,1577.5 L234.8,1573.9 L235.0,1570.3 L235.3,1566.7 L235.6,1563.1 L235.9,1559.5 L236.2,1555.9 L236.5,1552.3 L236.8,1548.7 L237.2,1545.1 L237.6,1541.5 L238.0,1537.9 L238.4,1534.3 L238.8,1530.7 L239.2,1527.1 L239.7,1523.5 L240.1,1519.9 L240.6,1516.3 L241.1,1512.7 L241.6,1509.1 L242.1,1505.5 L242.6,1501.9 L243.2,1498.3 L243.7,1494.7 L244.3,1491.1 L244.9,1487.5 L245.5,1483.9 L246.1,1480.3 L246.8,1476.7 L247.4,1473.1 L248.1,1469.5 L248.7,1465.9 L249.4,1462.3 L250.1,1458.7 L250.9,1455.1 L251.6,1451.5 L252.4,1447.9 L253.1,1444.3 L253.9,1440.7 L254.7,1437.1 L255.5,1433.5 L256.3,1429.9 L257.2,1426.3 L258.0,1422.7 L258.9,1419.1 L259.8,1415.5 L260.7,1411.9 L261.6,1408.3 L262.5,1404.7 L263.4,1401.0 L264.4,1397.4 L265.4,1393.8 L266.3,1390.2 L267.3,1386.6 L268.3,1383.0 L269.4,1379.4 L270.4,1375.8 L271.5,1372.2 L272.5,1368.6 L273.6,1365.0 L274.7,1361.4 L275.8,1357.8 L277.0,1354.2 L278.1,1350.6 L279.3,1347.0 L280.4,1343.4 L281.6,1339.8 L282.8,1336.2 L284.1,1332.6 L285.3,1329.0 L286.5,1325.4 L287.8,1321.8 L289.1,1318.2 L290.4,1314.5 L291.7,1310.9 L293.0,1307.3 L294.3,1303.7 L295.7,1300.1 L297.0,1296.5 L298.4,1292.9 L299.8,1289.3 L301.2,1285.7 L302.6,1282.1 L304.1,1278.5 L305.5,1274.9 L307.0,1271.3 L308.5,1267.7 L309.9,1264.1 L311.5,1260.5 L313.0,1256.9 L314.5,1253.2 L316.1,1249.6 L317.6,1246.0 L319.2,1242.4 L320.8,1238.8 L322.4,1235.2 L324.1,1231.6 L325.7,1228.0 L327.3,1224.4 L329.0,1220.8 L330.7,1217.2 L332.4,1213.6 L334.1,1210.0 L335.8,1206.4 L337.6,1202.7 L339.3,1199.1 L341.1,1195.5 L342.9,1191.9 L344.7,1188.3 L346.5,1184.7 L348.3,1181.1 L350.2,1177.5 L352.0,1173.9 L353.9,1170.3 L355.8,1166.7 L357.7,1163.0 L359.6,1159.4 L361.6,1155.8 L363.5,1152.2 L365.5,1148.6 L367.5,1145.0 L369.4,1141.4 L371.4,1137.8 L373.5,1134.2 L375.5,1130.6 L377.6,1127.0 L379.6,1123.3 L381.7,1119.7 L383.8,1116.1 L385.9,1112.5 L388.0,1108.9 L390.2,1105.3 L392.3,1101.7 L394.5,1098.1 L396.7,1094.5 L398.9,1090.8 L401.1,1087.2 L403.3,1083.6 L405.5,1080.0 L407.8,1076.4 L410.1,1072.8 L412.3,1069.2 L414.6,1065.6 L416.9,1061.9 L419.3,1058.3 L421.6,1054.7 L424.0,1051.1 L426.3,1047.5 L428.7,1043.9 L431.1,1040.3 L433.5,1036.7 L436.0,1033.0 L438.4,1029.4 L440.9,1025.8 L443.4,1022.2 L445.8,1018.6 L448.3,1015.0 L450.9,1011.4 L453.4,1007.7 L455.9,1004.1 L458.5,1000.5 L461.1,996.9 L463.7,993.3 L466.3,989.7 L468.9,986.0 L471.5,982.4 L474.2,978.8 L476.8,975.2 L479.5,971.6 L482.2,968.0 L484.9,964.3 L487.6,960.7 L490.4,957.1 L493.1,953.5 L495.9,949.9 L498.7,946.3 L501.5,942.6 L504.3,939.0 L507.1,935.4 L509.9,931.8 L512.8,928.2 L515.6,924.5 L518.5,920.9 L521.4,917.3 L524.3,913.7 L527.2,910.0 L530.2,906.4 L533.1,902.8 L536.1,899.2 L539.0,895.5 L542.0,891.9 L545.0,888.3 L548.0,884.6 L551.0,881.0Z" fill="#776b53"/>
<path d="M36.0,640.3 L36.5,644.7 L37.0,649.2 L37.4,653.6 L37.9,658.0 L38.4,662.4 L38.9,666.8 L39.4,671.2 L39.9,675.7 L40.4,680.1 L40.9,684.5 L41.4,688.9 L41.9,693.3 L42.4,697.7 L42.9,702.2 L43.4,706.6 L43.9,711.0 L44.4,715.4 L44.9,719.8 L45.5,724.2 L46.0,728.7 L46.5,733.1 L47.0,737.5 L47.6,741.9 L48.1,746.3 L48.6,750.7 L49.2,755.2 L49.7,759.6 L50.3,764.0 L50.8,768.4 L51.4,772.8 L51.9,777.2 L52.5,781.7 L53.0,786.1 L53.6,790.5 L54.2,794.9 L54.7,799.3 L55.3,803.7 L55.9,808.2 L56.5,812.6 L57.0,817.0 L57.6,821.4 L58.2,825.8 L58.8,830.2 L59.4,834.7 L60.0,839.1 L60.6,843.5 L61.2,847.9 L61.8,852.3 L62.4,856.7 L63.0,861.2 L63.6,865.6 L64.2,870.0 L64.9,874.4 L65.5,878.8 L66.1,883.3 L66.7,887.7 L67.4,892.1 L68.0,896.5 L68.6,900.9 L69.3,905.3 L69.9,909.8 L70.6,914.2 L71.2,918.6 L71.9,923.0 L72.5,927.4 L73.2,931.8 L73.9,936.3 L74.5,940.7 L75.2,945.1 L75.9,949.5 L76.6,953.9 L77.2,958.3 L77.9,962.8 L78.6,967.2 L79.3,971.6 L80.0,976.0 L80.7,980.4 L81.4,984.9 L82.1,989.3 L82.8,993.7 L83.5,998.1 L84.2,1002.5 L84.9,1006.9 L85.7,1011.4 L86.4,1015.8 L87.1,1020.2 L87.8,1024.6 L88.6,1029.0 L89.3,1033.4 L90.0,1037.9 L90.8,1042.3 L91.5,1046.7 L92.3,1051.1 L93.0,1055.5 L93.8,1059.9 L94.6,1064.4 L95.3,1068.8 L96.1,1073.2 L96.9,1077.6 L97.6,1082.0 L98.4,1086.5 L99.2,1090.9 L100.0,1095.3 L100.8,1099.7 L101.6,1104.1 L102.4,1108.5 L103.2,1113.0 L104.0,1117.4 L104.8,1121.8 L105.6,1126.2 L106.4,1130.6 L107.2,1135.0 L108.1,1139.5 L108.9,1143.9 L109.7,1148.3 L110.5,1152.7 L111.4,1157.1 L112.2,1161.6 L113.1,1166.0 L113.9,1170.4 L114.8,1174.8 L115.6,1179.2 L116.5,1183.6 L117.3,1188.1 L118.2,1192.5 L119.1,1196.9 L120.0,1201.3 L120.8,1205.7 L121.7,1210.2 L122.6,1214.6 L123.5,1219.0 L124.4,1223.4 L125.3,1227.8 L126.2,1232.2 L127.1,1236.7 L128.0,1241.1 L128.9,1245.5 L129.8,1249.9 L130.8,1254.3 L131.7,1258.7 L132.6,1263.2 L133.6,1267.6 L134.5,1272.0 L135.4,1276.4 L136.4,1280.8 L137.3,1285.3 L138.3,1289.7 L139.2,1294.1 L140.2,1298.5 L141.2,1302.9 L142.1,1307.3 L143.1,1311.8 L144.1,1316.2 L145.1,1320.6 L146.1,1325.0 L147.0,1329.4 L148.0,1333.9 L149.0,1338.3 L150.0,1342.7 L151.1,1347.1 L152.1,1351.5 L153.1,1355.9 L154.1,1360.4 L155.1,1364.8 L156.1,1369.2 L157.2,1373.6 L158.2,1378.0 L159.3,1382.5 L160.3,1386.9 L161.3,1391.3 L162.4,1395.7 L163.5,1400.1 L164.5,1404.6 L165.6,1409.0 L166.7,1413.4 L167.7,1417.8 L168.8,1422.2 L169.9,1426.6 L171.0,1431.1 L172.1,1435.5 L173.2,1439.9 L174.3,1444.3 L175.4,1448.7 L176.5,1453.2 L177.6,1457.6 L178.7,1462.0 L179.8,1466.4 L181.0,1470.8 L182.1,1475.2 L183.2,1479.7 L184.4,1484.1 L185.5,1488.5 L186.7,1492.9 L187.8,1497.3 L189.0,1501.8 L190.1,1506.2 L191.3,1510.6 L192.5,1515.0 L193.7,1519.4 L194.8,1523.8 L196.0,1528.3 L197.2,1532.7 L198.4,1537.1 L199.6,1541.5 L200.8,1545.9 L202.0,1550.4 L203.2,1554.8 L204.5,1559.2 L205.7,1563.6 L206.9,1568.0 L208.1,1572.5 L209.4,1576.9 L210.6,1581.3 L211.9,1585.7 L213.1,1590.1 L214.4,1594.5 L215.6,1599.0 L216.9,1603.4 L218.2,1607.8 L219.4,1612.2 L220.7,1616.6 L222.0,1621.1 L223.3,1625.5 L224.6,1629.9 L225.9,1634.3 L227.2,1638.7 L228.5,1643.2 L229.8,1647.6 L231.1,1652.0 L232.4,1656.4 L233.8,1660.8 L235.1,1665.2 L236.4,1669.7 L237.8,1674.1 L239.1,1678.5 L240.5,1682.9 L241.8,1687.3 L243.2,1691.8 L244.6,1696.2 L245.9,1700.6 L247.3,1705.0 L248.7,1709.4 L250.1,1713.9 L251.5,1718.3 L252.9,1722.7 L254.3,1727.1 L255.7,1731.5 L257.1,1736.0 L258.5,1740.4 L259.9,1744.8 L261.3,1749.2 L262.8,1753.6 L264.2,1758.0 L265.6,1762.5 L267.1,1766.9 L268.5,1771.3 L270.0,1775.7 L271.5,1780.1 L272.9,1784.6 L274.4,1789.0 L275.9,1793.4 L277.4,1797.8 L278.8,1802.2 L280.3,1806.7 L281.8,1811.1 L283.3,1815.5 L284.9,1819.9 L286.4,1824.3 L287.9,1828.8 L289.4,1833.2 L290.9,1837.6 L292.5,1842.0 L294.0,1846.4 L295.6,1850.9 L297.1,1855.3 L298.7,1859.7 L300.2,1864.1 L301.8,1868.5 L303.4,1872.9 L304.9,1877.4 L306.5,1881.8 L308.1,1886.2 L309.7,1890.6 L311.3,1895.0 L312.9,1899.5 L314.5,1903.9 L316.1,1908.3 L317.8,1912.7 L319.4,1917.1 L321.0,1921.6 L322.7,1926.0 L324.3,1930.4 L325.9,1934.8 L327.6,1939.2 L329.3,1943.7 L330.9,1948.1 L332.6,1952.5 L334.3,1956.9 L335.9,1961.3 L343.0,1958.7 L341.3,1954.3 L339.6,1949.8 L337.9,1945.4 L336.3,1941.0 L334.6,1936.6 L332.9,1932.2 L331.3,1927.8 L329.6,1923.4 L328.0,1919.0 L326.4,1914.6 L324.7,1910.2 L323.1,1905.7 L321.5,1901.3 L319.9,1896.9 L318.3,1892.5 L316.7,1888.1 L315.1,1883.7 L313.5,1879.3 L311.9,1874.9 L310.3,1870.5 L308.8,1866.1 L307.2,1861.6 L305.6,1857.2 L304.1,1852.8 L302.5,1848.4 L301.0,1844.0 L299.4,1839.6 L297.9,1835.2 L296.4,1830.8 L294.8,1826.4 L293.3,1822.0 L291.8,1817.5 L290.3,1813.1 L288.8,1808.7 L287.3,1804.3 L285.8,1799.9 L284.3,1795.5 L282.8,1791.1 L281.3,1786.7 L279.8,1782.3 L278.4,1777.8 L276.9,1773.4 L275.5,1769.0 L274.0,1764.6 L272.6,1760.2 L271.1,1755.8 L269.7,1751.4 L268.2,1747.0 L266.8,1742.6 L265.4,1738.2 L264.0,1733.7 L262.5,1729.3 L261.1,1724.9 L259.7,1720.5 L258.3,1716.1 L256.9,1711.7 L255.6,1707.3 L254.2,1702.9 L252.8,1698.5 L251.4,1694.1 L250.1,1689.6 L248.7,1685.2 L247.3,1680.8 L246.0,1676.4 L244.6,1672.0 L243.3,1667.6 L241.9,1663.2 L240.6,1658.8 L239.3,1654.4 L238.0,1649.9 L236.6,1645.5 L235.3,1641.1 L234.0,1636.7 L232.7,1632.3 L231.4,1627.9 L230.1,1623.5 L228.8,1619.1 L227.5,1614.7 L226.2,1610.3 L225.0,1605.8 L223.7,1601.4 L222.4,1597.0 L221.2,1592.6 L219.9,1588.2 L218.7,1583.8 L217.4,1579.4 L216.2,1575.0 L214.9,1570.6 L213.7,1566.1 L212.5,1561.7 L211.2,1557.3 L210.0,1552.9 L208.8,1548.5 L207.6,1544.1 L206.4,1539.7 L205.2,1535.3 L204.0,1530.9 L202.8,1526.4 L201.6,1522.0 L200.4,1517.6 L199.2,1513.2 L198.1,1508.8 L196.9,1504.4 L195.7,1500.0 L194.6,1495.6 L193.4,1491.2 L192.2,1486.8 L191.1,1482.3 L190.0,1477.9 L188.8,1473.5 L187.7,1469.1 L186.6,1464.7 L185.4,1460.3 L184.3,1455.9 L183.2,1451.5 L182.1,1447.1 L181.0,1442.6 L179.9,1438.2 L178.8,1433.8 L177.7,1429.4 L176.6,1425.0 L175.5,1420.6 L174.4,1416.2 L173.3,1411.8 L172.3,1407.4 L171.2,1402.9 L170.1,1398.5 L169.1,1394.1 L168.0,1389.7 L167.0,1385.3 L165.9,1380.9 L164.9,1376.5 L163.8,1372.1 L162.8,1367.7 L161.8,1363.2 L160.7,1358.8 L159.7,1354.4 L158.7,1350.0 L157.7,1345.6 L156.7,1341.2 L155.7,1336.8 L154.7,1332.4 L153.7,1328.0 L152.7,1323.5 L151.7,1319.1 L150.7,1314.7 L149.7,1310.3 L148.7,1305.9 L147.8,1301.5 L146.8,1297.1 L145.8,1292.7 L144.9,1288.3 L143.9,1283.8 L142.9,1279.4 L142.0,1275.0 L141.1,1270.6 L140.1,1266.2 L139.2,1261.8 L138.2,1257.4 L137.3,1253.0 L136.4,1248.5 L135.5,1244.1 L134.5,1239.7 L133.6,1235.3 L132.7,1230.9 L131.8,1226.5 L130.9,1222.1 L130.0,1217.7 L129.1,1213.3 L128.2,1208.8 L127.3,1204.4 L126.5,1200.0 L125.6,1195.6 L124.7,1191.2 L123.8,1186.8 L123.0,1182.4 L122.1,1178.0 L121.2,1173.6 L120.4,1169.1 L119.5,1164.7 L118.7,1160.3 L117.8,1155.9 L117.0,1151.5 L116.2,1147.1 L115.3,1142.7 L114.5,1138.3 L113.7,1133.8 L112.8,1129.4 L112.0,1125.0 L111.2,1120.6 L110.4,1116.2 L109.6,1111.8 L108.8,1107.4 L108.0,1103.0 L107.2,1098.6 L106.4,1094.1 L105.6,1089.7 L104.8,1085.3 L104.0,1080.9 L103.3,1076.5 L102.5,1072.1 L101.7,1067.7 L100.9,1063.3 L100.2,1058.8 L99.4,1054.4 L98.7,1050.0 L97.9,1045.6 L97.1,1041.2 L96.4,1036.8 L95.7,1032.4 L94.9,1028.0 L94.2,1023.6 L93.4,1019.1 L92.7,1014.7 L92.0,1010.3 L91.3,1005.9 L90.5,1001.5 L89.8,997.1 L89.1,992.7 L88.4,988.3 L87.7,983.8 L87.0,979.4 L86.3,975.0 L85.6,970.6 L84.9,966.2 L84.2,961.8 L83.5,957.4 L82.8,953.0 L82.1,948.5 L81.5,944.1 L80.8,939.7 L80.1,935.3 L79.5,930.9 L78.8,926.5 L78.1,922.1 L77.5,917.7 L76.8,913.3 L76.2,908.8 L75.5,904.4 L74.9,900.0 L74.2,895.6 L73.6,891.2 L72.9,886.8 L72.3,882.4 L71.7,878.0 L71.1,873.5 L70.4,869.1 L69.8,864.7 L69.2,860.3 L68.6,855.9 L68.0,851.5 L67.4,847.1 L66.8,842.7 L66.2,838.2 L65.6,833.8 L65.0,829.4 L64.4,825.0 L63.8,820.6 L63.2,816.2 L62.6,811.8 L62.0,807.4 L61.4,802.9 L60.9,798.5 L60.3,794.1 L59.7,789.7 L59.1,785.3 L58.6,780.9 L58.0,776.5 L57.5,772.1 L56.9,767.6 L56.4,763.2 L55.8,758.8 L55.3,754.4 L54.7,750.0 L54.2,745.6 L53.6,741.2 L53.1,736.8 L52.6,732.3 L52.0,727.9 L51.5,723.5 L51.0,719.1 L50.5,714.7 L49.9,710.3 L49.4,705.9 L48.9,701.5 L48.4,697.0 L47.9,692.6 L47.4,688.2 L46.9,683.8 L46.4,679.4 L45.9,675.0 L45.4,670.6 L44.9,666.2 L44.4,661.7 L43.9,657.3 L43.4,652.9 L42.9,648.5 L42.5,644.1 L42.0,639.7Z" fill="#776b53"/>
<path d="M147.4,359.9 L146.6,365.3 L145.8,370.6 L145.0,376.0 L144.2,381.3 L143.4,386.7 L142.6,392.0 L141.8,397.4 L141.1,402.7 L140.3,408.1 L139.6,413.4 L138.8,418.8 L138.1,424.1 L137.4,429.5 L136.7,434.8 L136.0,440.2 L135.4,445.5 L134.7,450.9 L134.0,456.2 L133.4,461.6 L132.7,466.9 L132.1,472.3 L131.5,477.6 L130.9,483.0 L130.3,488.3 L129.7,493.7 L129.1,499.0 L128.5,504.4 L128.0,509.7 L127.4,515.1 L126.9,520.4 L126.3,525.8 L125.8,531.1 L125.3,536.5 L124.8,541.8 L124.3,547.2 L123.8,552.5 L123.3,557.9 L122.9,563.2 L122.4,568.6 L121.9,574.0 L121.5,579.3 L121.1,584.7 L120.6,590.0 L120.2,595.4 L119.8,600.7 L119.4,606.1 L119.0,611.4 L118.6,616.8 L118.3,622.1 L117.9,627.5 L117.5,632.8 L117.2,638.2 L116.8,643.5 L116.5,648.9 L116.2,654.2 L115.9,659.6 L115.6,664.9 L115.3,670.3 L115.0,675.6 L114.7,681.0 L114.4,686.4 L114.1,691.7 L113.9,697.1 L113.6,702.4 L113.4,707.8 L113.1,713.1 L112.9,718.5 L112.7,723.8 L112.5,729.2 L112.3,734.5 L112.1,739.9 L111.9,745.2 L111.7,750.6 L111.5,755.9 L111.3,761.3 L111.2,766.6 L111.0,772.0 L110.9,777.4 L110.7,782.7 L110.6,788.1 L110.4,793.4 L110.3,798.8 L110.2,804.1 L110.1,809.5 L110.0,814.8 L109.9,820.2 L109.8,825.5 L109.7,830.9 L109.7,836.2 L109.6,841.6 L109.5,846.9 L109.5,852.3 L109.4,857.6 L109.4,863.0 L109.4,868.4 L109.3,873.7 L109.3,879.1 L109.3,884.4 L109.3,889.8 L109.3,895.1 L109.3,900.5 L109.3,905.8 L109.3,911.2 L109.4,916.5 L109.4,921.9 L109.4,927.2 L109.5,932.6 L109.5,937.9 L109.6,943.3 L109.6,948.7 L109.7,954.0 L109.8,959.4 L109.8,964.7 L109.9,970.1 L110.0,975.4 L110.1,980.8 L110.2,986.1 L110.3,991.5 L110.4,996.8 L110.5,1002.2 L110.6,1007.5 L110.8,1012.9 L110.9,1018.2 L111.0,1023.6 L111.2,1029.0 L111.3,1034.3 L111.5,1039.7 L111.6,1045.0 L111.8,1050.4 L112.0,1055.7 L112.1,1061.1 L112.3,1066.4 L112.5,1071.8 L112.7,1077.1 L112.9,1082.5 L113.1,1087.8 L113.4,1093.2 L113.6,1098.6 L113.8,1103.9 L114.1,1109.3 L114.3,1114.6 L114.6,1120.0 L114.9,1125.3 L115.1,1130.7 L115.4,1136.0 L115.7,1141.4 L116.0,1146.8 L116.3,1152.1 L116.6,1157.5 L116.9,1162.8 L117.3,1168.2 L117.6,1173.5 L118.0,1178.9 L118.3,1184.2 L118.7,1189.6 L119.1,1195.0 L119.5,1200.3 L119.9,1205.7 L120.3,1211.0 L120.7,1216.4 L121.1,1221.7 L121.5,1227.1 L122.0,1232.4 L122.4,1237.8 L122.9,1243.2 L123.4,1248.5 L123.9,1253.9 L124.4,1259.2 L124.9,1264.6 L125.4,1269.9 L125.9,1275.3 L126.5,1280.7 L127.0,1286.0 L127.6,1291.4 L128.2,1296.7 L128.7,1302.1 L129.3,1307.4 L129.9,1312.8 L130.6,1318.2 L131.2,1323.5 L131.8,1328.9 L132.5,1334.2 L133.2,1339.6 L133.8,1344.9 L134.5,1350.3 L135.2,1355.7 L136.0,1361.0 L136.7,1366.4 L137.4,1371.7 L138.2,1377.1 L139.0,1382.5 L139.7,1387.8 L140.5,1393.2 L141.3,1398.5 L142.2,1403.9 L143.0,1409.2 L143.9,1414.6 L144.7,1420.0 L145.6,1425.3 L146.5,1430.7 L147.4,1436.0 L148.3,1441.4 L149.2,1446.8 L150.2,1452.1 L151.1,1457.5 L152.1,1462.8 L153.1,1468.2 L154.1,1473.6 L155.1,1478.9 L156.1,1484.3 L157.2,1489.6 L158.2,1495.0 L159.3,1500.3 L160.3,1505.7 L161.4,1511.1 L162.5,1516.4 L163.6,1521.8 L164.8,1527.1 L165.9,1532.5 L167.0,1537.9 L168.2,1543.2 L169.4,1548.6 L170.6,1553.9 L171.8,1559.3 L173.0,1564.7 L174.2,1570.0 L175.4,1575.4 L176.7,1580.7 L177.9,1586.1 L179.2,1591.5 L180.5,1596.8 L181.8,1602.2 L183.1,1607.5 L184.4,1612.9 L185.8,1618.2 L187.1,1623.6 L188.4,1629.0 L189.8,1634.3 L191.2,1639.7 L192.6,1645.0 L194.0,1650.4 L195.4,1655.8 L196.8,1661.1 L198.2,1666.5 L199.7,1671.8 L201.1,1677.2 L202.6,1682.6 L204.1,1687.9 L205.6,1693.3 L207.1,1698.6 L208.6,1704.0 L210.1,1709.4 L211.7,1714.7 L213.2,1720.1 L214.8,1725.4 L216.3,1730.8 L217.9,1736.1 L219.5,1741.5 L221.1,1746.9 L222.7,1752.2 L224.3,1757.6 L225.9,1762.9 L227.5,1768.3 L229.2,1773.7 L230.8,1779.0 L232.5,1784.4 L234.1,1789.7 L235.8,1795.1 L237.5,1800.4 L239.1,1805.8 L240.8,1811.2 L242.5,1816.5 L244.2,1821.9 L245.9,1827.2 L247.7,1832.6 L249.4,1837.9 L251.1,1843.3 L252.8,1848.7 L254.6,1854.0 L256.3,1859.4 L258.1,1864.7 L259.8,1870.1 L261.6,1875.4 L263.3,1880.8 L265.1,1886.2 L266.9,1891.5 L268.7,1896.9 L270.4,1902.2 L272.2,1907.6 L274.0,1912.9 L275.8,1918.3 L277.6,1923.6 L279.4,1929.0 L281.2,1934.4 L283.0,1939.7 L284.8,1945.1 L286.6,1950.4 L288.4,1955.8 L290.2,1961.1 L296.8,1958.9 L295.0,1953.5 L293.2,1948.2 L291.4,1942.8 L289.6,1937.5 L287.7,1932.1 L285.9,1926.8 L284.1,1921.4 L282.3,1916.1 L280.5,1910.7 L278.7,1905.4 L276.9,1900.1 L275.1,1894.7 L273.3,1889.4 L271.5,1884.0 L269.8,1878.7 L268.0,1873.3 L266.2,1868.0 L264.4,1862.6 L262.7,1857.3 L260.9,1851.9 L259.2,1846.6 L257.4,1841.2 L255.7,1835.9 L253.9,1830.6 L252.2,1825.2 L250.5,1819.9 L248.8,1814.5 L247.1,1809.2 L245.4,1803.8 L243.7,1798.5 L242.0,1793.1 L240.3,1787.8 L238.6,1782.5 L237.0,1777.1 L235.3,1771.8 L233.7,1766.4 L232.0,1761.1 L230.4,1755.7 L228.8,1750.4 L227.1,1745.0 L225.5,1739.7 L223.9,1734.4 L222.4,1729.0 L220.8,1723.7 L219.2,1718.3 L217.7,1713.0 L216.1,1707.6 L214.6,1702.3 L213.1,1696.9 L211.5,1691.6 L210.0,1686.3 L208.5,1680.9 L207.1,1675.6 L205.6,1670.2 L204.1,1664.9 L202.7,1659.5 L201.3,1654.2 L199.8,1648.9 L198.4,1643.5 L197.0,1638.2 L195.6,1632.8 L194.2,1627.5 L192.9,1622.1 L191.5,1616.8 L190.2,1611.5 L188.8,1606.1 L187.5,1600.8 L186.2,1595.4 L184.9,1590.1 L183.6,1584.7 L182.4,1579.4 L181.1,1574.1 L179.9,1568.7 L178.6,1563.4 L177.4,1558.0 L176.2,1552.7 L175.0,1547.3 L173.8,1542.0 L172.6,1536.7 L171.5,1531.3 L170.3,1526.0 L169.2,1520.6 L168.0,1515.3 L166.9,1509.9 L165.8,1504.6 L164.7,1499.2 L163.7,1493.9 L162.6,1488.6 L161.6,1483.2 L160.5,1477.9 L159.5,1472.5 L158.5,1467.2 L157.5,1461.8 L156.5,1456.5 L155.5,1451.2 L154.6,1445.8 L153.6,1440.5 L152.7,1435.1 L151.8,1429.8 L150.9,1424.4 L150.0,1419.1 L149.1,1413.8 L148.2,1408.4 L147.4,1403.1 L146.6,1397.7 L145.7,1392.4 L144.9,1387.0 L144.1,1381.7 L143.3,1376.4 L142.6,1371.0 L141.8,1365.7 L141.1,1360.3 L140.3,1355.0 L139.6,1349.6 L138.9,1344.3 L138.2,1338.9 L137.5,1333.6 L136.8,1328.3 L136.2,1322.9 L135.5,1317.6 L134.9,1312.2 L134.3,1306.9 L133.7,1301.5 L133.1,1296.2 L132.5,1290.8 L131.9,1285.5 L131.3,1280.1 L130.8,1274.8 L130.2,1269.5 L129.7,1264.1 L129.2,1258.8 L128.7,1253.4 L128.2,1248.1 L127.7,1242.7 L127.2,1237.4 L126.7,1232.0 L126.2,1226.7 L125.8,1221.3 L125.4,1216.0 L124.9,1210.7 L124.5,1205.3 L124.1,1200.0 L123.7,1194.6 L123.3,1189.3 L122.9,1183.9 L122.5,1178.6 L122.2,1173.2 L121.8,1167.9 L121.4,1162.5 L121.1,1157.2 L120.8,1151.8 L120.4,1146.5 L120.1,1141.1 L119.8,1135.8 L119.5,1130.5 L119.2,1125.1 L118.9,1119.8 L118.7,1114.4 L118.4,1109.1 L118.1,1103.7 L117.9,1098.4 L117.6,1093.0 L117.4,1087.7 L117.2,1082.3 L116.9,1077.0 L116.7,1071.6 L116.5,1066.3 L116.3,1060.9 L116.1,1055.6 L115.9,1050.2 L115.7,1044.9 L115.6,1039.5 L115.4,1034.2 L115.2,1028.8 L115.1,1023.5 L114.9,1018.1 L114.8,1012.8 L114.6,1007.4 L114.5,1002.1 L114.3,996.7 L114.2,991.4 L114.1,986.0 L114.0,980.7 L113.9,975.3 L113.8,970.0 L113.7,964.7 L113.6,959.3 L113.5,954.0 L113.4,948.6 L113.3,943.3 L113.3,937.9 L113.2,932.6 L113.1,927.2 L113.1,921.9 L113.0,916.5 L113.0,911.2 L112.9,905.8 L112.9,900.5 L112.9,895.1 L112.9,889.8 L112.9,884.4 L112.9,879.1 L112.9,873.7 L112.9,868.4 L112.9,863.0 L112.9,857.7 L112.9,852.3 L113.0,847.0 L113.0,841.6 L113.1,836.3 L113.1,830.9 L113.2,825.6 L113.2,820.2 L113.3,814.9 L113.4,809.5 L113.5,804.2 L113.6,798.8 L113.7,793.5 L113.8,788.1 L113.9,782.8 L114.0,777.4 L114.1,772.1 L114.3,766.7 L114.4,761.4 L114.6,756.0 L114.7,750.7 L114.9,745.3 L115.1,740.0 L115.3,734.6 L115.4,729.3 L115.6,723.9 L115.8,718.6 L116.0,713.2 L116.3,707.9 L116.5,702.5 L116.7,697.2 L117.0,691.8 L117.2,686.5 L117.5,681.1 L117.7,675.8 L118.0,670.4 L118.3,665.1 L118.6,659.7 L118.9,654.4 L119.2,649.0 L119.5,643.7 L119.8,638.3 L120.1,633.0 L120.5,627.6 L120.8,622.3 L121.2,616.9 L121.5,611.6 L121.9,606.2 L122.3,600.9 L122.7,595.5 L123.1,590.2 L123.5,584.8 L123.9,579.5 L124.3,574.1 L124.7,568.8 L125.2,563.4 L125.6,558.1 L126.1,552.7 L126.5,547.4 L127.0,542.0 L127.5,536.7 L128.0,531.3 L128.5,526.0 L129.0,520.6 L129.5,515.3 L130.0,509.9 L130.6,504.6 L131.1,499.2 L131.7,493.9 L132.2,488.5 L132.8,483.2 L133.4,477.8 L134.0,472.5 L134.6,467.1 L135.2,461.8 L135.8,456.4 L136.5,451.1 L137.1,445.7 L137.7,440.4 L138.4,435.0 L139.1,429.7 L139.8,424.3 L140.4,419.0 L141.1,413.6 L141.8,408.3 L142.6,402.9 L143.3,397.6 L144.0,392.2 L144.8,386.9 L145.5,381.5 L146.3,376.2 L147.1,370.8 L147.9,365.4 L148.6,360.1Z" fill="#776b53"/>
</g>
  <!-- left bar -->
  <rect x="0" y="0" width="50" height="1920" fill="#776b53"/>
  <!-- red home plate -->
  <polygon points="0,200 313,200 383,270.5 313,341 0,341" fill="#a52d12"/>
  <!-- title -->
  <g class="t" font-weight="bold" font-size="99.5" fill="#232323" text-anchor="middle">
    <text x="1477" y="172.5">Regional Competitiveness (Infrastructure)</text>
    <text x="1477" y="291.5">Index 2017–2018</text>
  </g>
  <!-- chart -->
  <g id="chart">
<line x1="376.4" y1="1617.00" x2="1797.0" y2="1617.00" stroke="#dbdce2" stroke-width="2.3"/>
<line x1="376.4" y1="1467.75" x2="1797.0" y2="1467.75" stroke="#dbdce2" stroke-width="2.3"/>
<line x1="376.4" y1="1318.50" x2="1797.0" y2="1318.50" stroke="#dbdce2" stroke-width="2.3"/>
<line x1="376.4" y1="1169.25" x2="1797.0" y2="1169.25" stroke="#dbdce2" stroke-width="2.3"/>
<line x1="376.4" y1="1020.00" x2="1797.0" y2="1020.00" stroke="#dbdce2" stroke-width="2.3"/>
<line x1="376.4" y1="870.75" x2="1797.0" y2="870.75" stroke="#dbdce2" stroke-width="2.3"/>
<line x1="376.4" y1="721.50" x2="1797.0" y2="721.50" stroke="#dbdce2" stroke-width="2.3"/>
<line x1="376.4" y1="572.25" x2="1797.0" y2="572.25" stroke="#dbdce2" stroke-width="2.3"/>
<line x1="376.4" y1="423.00" x2="1797.0" y2="423.00" stroke="#dbdce2" stroke-width="2.3"/>
<g class="d" font-size="33.5" text-anchor="end">
<text x="346.5" y="1628.6" textLength="20.5" lengthAdjust="spacingAndGlyphs">0</text>
<text x="346.5" y="1479.3" textLength="37" lengthAdjust="spacingAndGlyphs">20</text>
<text x="346.5" y="1330.1" textLength="37" lengthAdjust="spacingAndGlyphs">40</text>
<text x="346.5" y="1180.8" textLength="37" lengthAdjust="spacingAndGlyphs">60</text>
<text x="346.5" y="1031.6" textLength="37" lengthAdjust="spacingAndGlyphs">80</text>
<text x="346.5" y="882.4" textLength="50" lengthAdjust="spacingAndGlyphs">100</text>
<text x="346.5" y="733.1" textLength="50" lengthAdjust="spacingAndGlyphs">120</text>
<text x="346.5" y="583.9" textLength="50" lengthAdjust="spacingAndGlyphs">140</text>
<text x="346.5" y="434.6" textLength="50" lengthAdjust="spacingAndGlyphs">160</text>
</g>
<rect x="414.0" y="1161.8" width="34" height="455.2" fill="#a52d12"/>
<rect x="523.3" y="1117.0" width="34" height="500.0" fill="#a52d12"/>
<rect x="632.6" y="990.1" width="34" height="626.9" fill="#a52d12"/>
<rect x="742.0" y="945.4" width="34" height="671.6" fill="#a52d12"/>
<rect x="851.2" y="900.6" width="34" height="716.4" fill="#a52d12"/>
<rect x="960.5" y="885.7" width="34" height="731.3" fill="#a52d12"/>
<rect x="1069.8" y="766.3" width="34" height="850.7" fill="#a52d12"/>
<rect x="1179.2" y="751.4" width="34" height="865.6" fill="#000000"/>
<rect x="1288.4" y="714.0" width="34" height="903.0" fill="#a52d12"/>
<rect x="1397.8" y="706.6" width="34" height="910.4" fill="#a52d12"/>
<rect x="1507.0" y="699.1" width="34" height="917.9" fill="#a52d12"/>
<rect x="1616.3" y="624.5" width="34" height="992.5" fill="#a52d12"/>
<rect x="1725.7" y="594.6" width="34" height="1022.4" fill="#a52d12"/>
<g class="d" font-size="33" text-anchor="end">
<text transform="translate(439.5,1669.5) rotate(-45)" textLength="230" lengthAdjust="spacingAndGlyphs">South Africa</text>
<text transform="translate(548.8,1669.5) rotate(-45)" textLength="163" lengthAdjust="spacingAndGlyphs">Namibia</text>
<text transform="translate(658.1,1669.5) rotate(-45)" textLength="146" lengthAdjust="spacingAndGlyphs">Zambia</text>
<text transform="translate(767.5,1669.5) rotate(-45)" textLength="183" lengthAdjust="spacingAndGlyphs">Botswana</text>
<text transform="translate(876.8,1669.5) rotate(-45)" textLength="121" lengthAdjust="spacingAndGlyphs">Kenya</text>
<text transform="translate(986.0,1669.5) rotate(-45)" textLength="161" lengthAdjust="spacingAndGlyphs">Rwanda</text>
<text transform="translate(1095.3,1669.5) rotate(-45)" textLength="164" lengthAdjust="spacingAndGlyphs">Tanzania</text>
<text transform="translate(1204.7,1669.5) rotate(-45)" textLength="201" lengthAdjust="spacingAndGlyphs">Zimbabwe</text>
<text transform="translate(1313.9,1669.5) rotate(-45)" textLength="145.5" lengthAdjust="spacingAndGlyphs">Lesotho</text>
<text transform="translate(1423.2,1669.5) rotate(-45)" textLength="158" lengthAdjust="spacingAndGlyphs">Uganda</text>
<text transform="translate(1532.5,1669.5) rotate(-45)" textLength="253" lengthAdjust="spacingAndGlyphs">Mozambique</text>
<text transform="translate(1641.8,1669.5) rotate(-45)" textLength="247" lengthAdjust="spacingAndGlyphs">Madagascar</text>
<text transform="translate(1751.2,1669.5) rotate(-45)" textLength="139" lengthAdjust="spacingAndGlyphs">Malawi</text>
</g>
</g>
  <!-- bullets -->
  <g id="body" class="t" font-size="71" fill="#3d3d3b">
<text x="1977.5" y="358.7">At <tspan font-weight="bold">116 out of 137</tspan></text>
<text x="1977.5" y="443.9"><tspan font-weight="bold">countries</tspan>,</text>
<text x="1977.5" y="529.1">Zimbabwe ranks</text>
<text x="1977.5" y="614.3">poorly in terms of</text>
<text x="1977.5" y="699.5">Infrastructure</text>
<text x="1977.5" y="784.7">Competitiveness.</text>
<text x="1977.5" y="906.2">Though standing</text>
<text x="1977.5" y="991.4"><tspan font-weight="bold">right at the</tspan></text>
<text x="1977.5" y="1076.6"><tspan font-weight="bold">middle of</tspan></text>
<text x="1977.5" y="1161.8"><tspan font-weight="bold">competitiveness</tspan></text>
<text x="1977.5" y="1247.0">rankings in SADC,</text>
<text x="1977.5" y="1332.2">the country’s</text>
<text x="1977.5" y="1417.4">infrastructure</text>
<text x="1977.5" y="1502.6">significantly lags</text>
<text x="1977.5" y="1587.8">behind Malawi,</text>
<text x="1977.5" y="1673.0">Madagascar and</text>
<text x="1977.5" y="1758.2">Mozambique.</text>
<polygon points="1885,319.0 1923,319.0 1937,333.0 1923,347.0 1885,347.0" fill="#a52d12"/>
<polygon points="1885,866.7 1923,866.7 1937,880.7 1923,894.7 1885,894.7" fill="#a52d12"/>
</g>
</svg>
</div>
</body>
</html>
